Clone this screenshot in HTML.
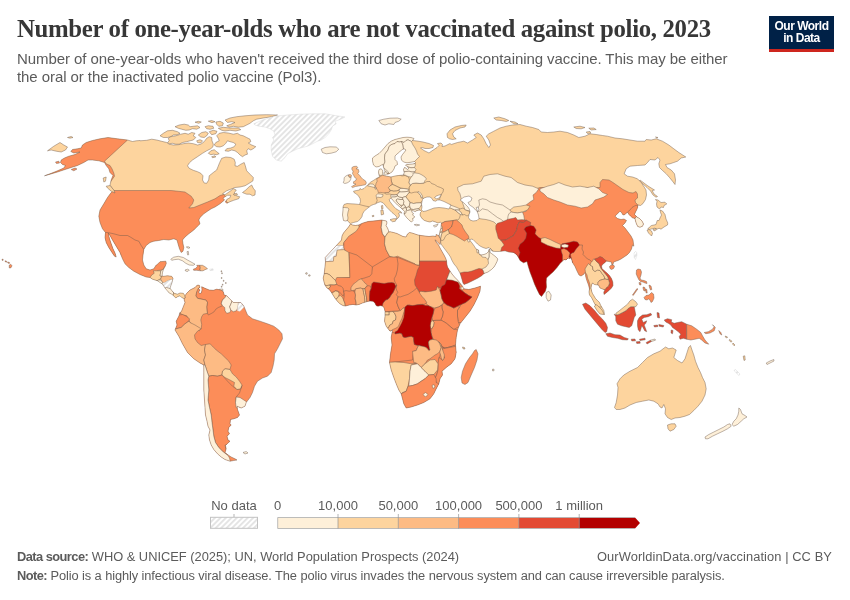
<!DOCTYPE html>
<html lang="en">
<head>
<meta charset="utf-8">
<title>Number of one-year-olds who are not vaccinated against polio, 2023</title>
<style>
html,body{margin:0;padding:0;background:#fff;}
body{width:850px;height:600px;position:relative;overflow:hidden;font-family:"Liberation Sans",sans-serif;color:#5b5b5b;}
.title{position:absolute;left:17px;top:14.4px;margin:0;font-family:"Liberation Serif",serif;font-weight:700;font-size:24.8px;line-height:30px;color:#373737;white-space:nowrap;letter-spacing:-0.335px;}
.subtitle{position:absolute;left:17px;top:49.9px;margin:0;font-size:15px;line-height:17.8px;color:#5b5b5b;white-space:nowrap;letter-spacing:-0.07px;}
.logo{position:absolute;left:769px;top:16px;width:65px;height:36px;background:#002147;border-bottom:0;box-sizing:border-box;color:#fff;text-align:center;font-weight:700;font-size:12px;line-height:11.8px;letter-spacing:-0.5px;}
.logo:after{content:"";position:absolute;left:0;right:0;bottom:0;height:3px;background:#ce261e;}
.logo span{display:block;}
.logo .l1{padding-top:5px}
.foot{position:absolute;left:17px;font-size:12.85px;line-height:16px;color:#5b5b5b;white-space:nowrap;margin:0;}
.foot b{font-weight:700}
#src{top:548.6px;}
#note{top:568px;letter-spacing:-0.1px;}
#url{left:597px;top:548.6px;letter-spacing:0.09px;}
.foot b{letter-spacing:-0.55px;}
svg{position:absolute;left:0;top:0;}
.lg{font-family:"Liberation Sans",sans-serif;font-size:13px;fill:#5b5b5b;}
</style>
</head>
<body>
<h1 class="title">Number of one-year-olds who are not vaccinated against polio, 2023</h1>
<p class="subtitle">Number of one-year-olds who haven't received the third dose of polio-containing vaccine. This may be either<br>the oral or the inactivated polio vaccine (Pol3).</p>
<div class="logo"><span class="l1">Our World</span><span>in Data</span></div>
<svg width="850" height="600" viewBox="0 0 850 600">
<defs>
<pattern id="hatch" width="3.86" height="3.86" patternUnits="userSpaceOnUse" patternTransform="rotate(45)">
<rect width="3.86" height="3.86" fill="#fff"/><rect width="1.85" height="3.86" fill="#e3e3e3"/>
</pattern>
</defs>
<defs>
<clipPath id="L1"><path d="M44.5 175.8L50 173.8L57.5 170.8L63.8 168L65.5 165.5L62.5 164.5L60.5 162.5L61.2 160L64.5 158L68.8 156.2L75 154.5L80 152L73.8 153L70.8 151.5L72.5 149.5L77.5 148.8L81.2 148L82.5 145L86.2 142.5L92.5 140.5L100 138.8L108 137.5L117.5 138.8L127.5 140L132.5 141.5L136.2 140.8L140 140.5L140 140.8L146.7 140.3L151.7 139.2L156.7 140L161.7 141.3L166.7 142.5L169.2 144.2L173.3 145L178.3 144.7L183.3 143.7L188.3 143L193.3 143.7L197.5 145L200.8 144.2L204.2 141.7L206.7 138.3L209.2 136.7L211.7 137.5L212 140.8L213.3 144.2L213 146.7L210.8 148.7L206.7 150.8L202.5 153.3L197.5 156.7L192.5 160L189.2 163L187.5 165.8L189.2 168.3L193.3 170.3L197.5 171.7L200.8 173.3L203 175.8L202.5 180L204.2 183L206.7 183.3L208.7 180L209.2 175.8L213.3 172.5L216.7 170L218 166.7L219.7 162.5L221.7 158.3L225.8 157L230.8 157.5L234.2 159.2L235.3 162.5L235 165.8L237.5 166.3L240.8 164.2L244.2 162.5L245.3 165.8L246.7 170.8L250 174.2L253.3 177.5L253 180.8L249.2 183.3L245 185.8L240 187L235 187.5L230.8 189.2L226.7 190.8L222.5 193.7L225 194.7L230 191.3L233.3 188.7L236.3 190L234.2 193L236.3 195.8L239.7 196.7L238.7 198.7L233.7 200.3L230 201.7L227 203.3L225.3 202L227 199.3L230 197.7L230.8 195.3L227.5 195.3L225 196.7L223 198.3L224.5 200L220 203.8L215 207L211.2 208.8L207.5 211.2L203.8 213.8L200 217.5L198.8 220L200 223.8L197.5 226.2L193.8 230L188.8 233.8L185 237L182.5 240L183 243.8L183.8 247.5L183 251.2L181.2 252.5L179.5 248.8L178 243.8L177 240L173.8 238.8L168.8 240L163.8 239.5L158.8 240.5L153.8 241.2L150 242.5L146.2 245.5L143.8 249.5L143 255L142.5 260L143.8 265L146.2 268.8L150 270L153.8 268.8L156.2 265L156.7 265L160 261.7L165.8 261.2L166.3 263.3L165 266.7L163.3 269.7L162.5 272.5L162 275.8L163.3 276.3L167.5 275.8L171.7 276.3L173 278.3L172 282.5L170.8 285.8L170 288.3L172 290.8L174.2 293.3L177.5 294.2L180 293L183.3 293.3L185 295.8L185.3 298L184.2 298.7L181.7 297.5L180 295.8L177.5 296.7L175.8 298L173.7 295.8L171.7 294.2L169.2 293L167.5 290.8L165.8 289.2L164.2 286.7L162.5 284.2L160 282.5L157.5 280.8L155 280L152.5 279.2L150 277.5L146.2 277L140 274.5L133.8 271.2L128.8 267.5L125 263.8L122.5 258.8L120 252.5L116.2 246.2L112.5 240L110 235.5L108.2 233L109.5 238.8L111.2 243.8L113 248.8L115 253L116.2 257L114.5 256.2L112 252.5L108.8 247.5L106.2 242.5L105 237.5L105.5 232.5L102.5 228.8L100 222.5L98.8 216.2L100 210L103.8 203.8L107.5 197.5L111.2 192.5L113.8 190.5L113.8 190.5L112.5 188.8L110 185L111.2 180L113 175.5L110 172.5L108.8 168.8L106.2 165.5L104.5 162.5L98.8 160.8L92.5 160L88 160L83.8 162.5L77.5 165.5L71.2 167.5L65 169.5L57.5 172L50 174.2Z"/></clipPath>
<clipPath id="L2"><path d="M184.2 298.7L185.3 298L185 295.8L186.7 293.3L190 290L195 287.5L197.5 285L199.2 285.3L200 287.2L198.3 288.7L200 290L198.7 292L199.7 293.7L201.3 293L202 290L201.7 286.7L205 288.3L209.2 290L213.3 290.3L216.7 289.2L220.8 290L223.3 291.7L224.2 295L226.7 295.8L229.2 298.3L231.7 300.8L233.3 302.5L237.5 302.5L240.8 302.5L243.7 305.8L247.5 315L252.5 318.8L260 321.2L267.5 323.8L273.8 326.2L278.8 330L282 333.8L282.5 338.8L280 343.8L277.5 348.8L274.5 353.8L274.2 360L273 366.2L271.2 372.5L267.5 376.2L262.5 378L257.5 381.2L254.5 386.2L252.5 392.5L250 397.5L246.2 402.5L246.2 402.5L245 406.2L241.2 408L237 406.2L237.5 409.5L239.5 415L237.5 417.5L233.8 418.8L230.5 419.5L230 423.8L231.2 425L228.8 427.5L228 431.2L229.5 433.8L227 436.2L228 440L230 441.2L228 443L225.5 445.5L226.2 448.8L225 452.5L227.5 454.5L231.2 457L235 458.8L237 460L233.8 460.5L230 461.2L225 459.5L221.2 457L217.5 453.8L213.8 449.5L211.2 445L209.5 440L208.8 435L210 430L208 426.2L207 421.2L205.5 415L205 407.5L204.5 400L203.8 390L203.8 380L203.8 372.5L203.8 365L200 363L193.8 358.8L187.5 352.5L182.5 343.8L178.8 336.2L175 330L177 325L176.2 321.2L178.8 316.2L180 312.5L180 313.3L181.7 310.8L183.3 306.7L185 302.5L184.2 300Z"/></clipPath>
<clipPath id="L3"><path d="M350.5 224L352.5 225L355.5 225.5L358.5 225L363 223L368 221.5L373 221L378 220.5L381.5 220L384 220.5L386.5 221L387 223L386 225.5L387.5 228L388.5 230.5L389 232L390.5 231.8L393.5 232.5L397 233.5L400 235L403 236.5L406 237L407.5 234L409.5 232.5L412 233L415 234L418 235L421 235.5L425 236L429 236.5L433 236L436 236.5L436 234.5L438.5 235.5L439.5 237L440.7 239L440.5 241.5L440 244.5L439 243.5L437 241.5L435 239.8L436 242L438.5 245L440 248L442 251.5L444 255L445.5 258L446.5 260.5L446.8 264L447.5 267L449 269.5L450 271L452 274L454.5 277L457.5 280L460 283L461.5 285L462.5 286.2L463.8 288.8L468.8 289.5L475 288L480.5 286.2L480 291.2L477.5 297.5L473.8 305L470 311.2L465 317.5L460 323.8L457.5 330L456.2 337.5L455.5 345L456.2 352.5L456.2 352.5L455 358.8L451.2 363.8L446.2 367.5L442 371.2L442.5 375L440 378.8L438.8 383.8L436.2 388.8L433.8 393.8L430 398.8L423.8 402.5L417.5 405L411.2 407L406.2 408L403.8 403.8L402.5 398.8L401.2 393.8L398.8 390L396.2 383.8L393.8 377.5L391.2 370L389.5 362.5L390.5 353.8L392 345L391.2 337.5L392.5 330L390 331.2L386.2 326.2L384.5 321.2L385 316.2L385 311.2L384.2 308.1L383 306.2L380.5 305.6L378 306.2L376.1 305.6L374.9 303.1L373 301.2L369.9 301L367.4 301.5L364.9 302.2L362.4 303.1L359.2 304.4L356.1 305L353 304.4L349.2 305L345.5 306L343 305.6L339.9 303.8L337.4 301.2L334.9 298.1L333 295L331.1 291.9L329.2 289.4L326.8 287.8L324.9 285L324 281.9L323.2 278.1L324.2 273.8L324.9 267.5L325.5 261.9L325.2 257.5L341.5 240L342 236L343.5 233L346 230L348.5 227Z"/></clipPath>
<clipPath id="L4"><path d="M350.5 223.5L349 222.5L347.5 220.5L345.5 221L343.5 220.5L342.5 215L343 210L343 207L344 204.5L347 203.5L351 203.8L355 204L359.5 204.5L360.5 201.5L360 198.5L358.5 196L356.5 194L354 192.5L353.5 191.2L356.5 190.5L359.5 190L360 188.5L361.5 189.5L364 188.5L366.5 186L368 184.5L370.8 182L373.7 180.3L376.7 178.3L379.7 176.7L379 175L378.5 172L379 169.5L381 168.8L382.8 170.5L382.5 173L383.5 175.5L387 176.2L391 177L395 176L398.5 175.5L401.5 175.2L403.5 175L404.2 172.5L403.5 169.5L404.5 167.5L406.2 168.2L407.5 169.8L408.8 168L407 166.5L405.5 165L409 164.3L413 164L415 163.5L415.5 162.5L414.5 161.5L411 162.2L407 162.8L403.5 162L401.5 160L401 157L402.5 154.5L404.5 152L406 150L404.5 149L403.5 149L401.5 150L399.5 152L397 154L395 156L395 159.5L397 161.5L397.5 164.5L395 166L394 169L392 172L389 173.8L387.5 174.2L387 174L385.5 172L384.5 170L383.5 167L383 164.5L381.5 165L379 166.5L376 167L373.5 165L372.5 161L372.5 158L375 156L379 153.5L382 150.5L385 147L388 143.5L391.5 141L395 139.5L399 138.5L403 137.5L407 137.2L411 137.5L414 138.5L412.5 140.5L417 141L423 142L429 143.5L433.5 145.5L433 147.5L429 148.5L425 148.5L422 147.5L420.5 148L424 150.5L427 152L429 153L431 151.5L434 149.5L437 147.5L439 145.5L437.5 143.5L441 143L442.5 144.5L442 146.5L445 146L448 144.5L450 143.5L451.2 144.5L457.5 142.5L463.8 141.2L467.5 143L472.5 140L476.2 137.5L473.8 135L477.5 133L481.2 135L483.8 138.8L486.2 143.8L488.8 147.5L490.5 145L488.8 140L486.2 136.2L488.8 133.8L493.8 131.2L500 128L506.2 126.2L512.5 125L520 124.5L526.2 126.2L532.5 127.5L538.8 129.5L541.2 132L547.5 132.5L553.8 132L560 131.2L567.5 132.5L573.8 135L578.8 137.5L585 136.2L590 133.8L596.2 134.5L602.5 135.5L607.5 136.2L615 138L622.5 138.8L630 140L637.5 141.2L645 141.2L646.2 139.5L651.2 140L656.2 138.8L662.5 141.2L668.8 145L673.8 148.8L678.8 152.5L685.8 157L681.2 158L677.5 161.2L673.8 162.5L670 163.8L665.5 164.5L667 167.5L671.2 170L674.5 173.8L675.5 180L675 184.5L672.5 181.2L669.5 177.5L666.2 173.8L662.5 170.5L659.5 167.5L658.8 163.8L660 160L658 157.5L655 160L650 159.5L647.5 162.5L645 165L637.5 165.5L630 166.2L626.2 168.8L624.2 173.8L627.5 176.2L632.5 177L637.5 178.8L641.2 182.5L644.5 187.5L646 190L646.5 195L645.5 199.5L643 203.5L640.5 205.5L638.5 205L637.5 206L637.8 207L636.8 209.5L635.5 212L634.5 214.5L636.5 216.5L637.2 217.2L639.5 218.5L642 221L643.5 224L642.5 226.2L640 227.2L637.8 226.5L636.5 224L635.5 221L635 218.5L632.5 217.8L630.5 216L629 214.5L627.5 212L625 214.5L623 215L621.5 212.5L620 211.2L615 216.2L617.5 218.5L621 219.5L624 219L626.5 220.5L625 223L622.5 225.5L625 228L628 232L631 236L633 240L633.8 246.2L632.5 245L631.5 249L629.5 252.5L627 255L624 257L621 259L618 260.5L615 261.5L613.5 262.2L613 264.5L611.8 264.5L611.5 262.2L609 261.5L606.5 261L605 262.5L603 264L601.5 266L602 268.5L604 270.5L607 273L609.5 275.5L611.5 278.5L612.8 282L613 285.5L611.5 288L609 290.5L606 293L604 294.5L603.8 292L605 290L602.5 289L600 288L598.5 285L596.5 284.8L594.5 284.5L592.5 283L591.5 285L591 288L591.5 291L592.5 293.5L594 296L595.5 298.5L597.5 300.5L599.5 302.5L600.5 305L602 307.5L603.8 310.5L604.5 314.5L600 314L597 310.5L594.5 306.5L595.5 305L594.5 303.5L593 300.5L591.5 297.5L589.5 295L589 292L589.5 289L588.5 285L587 281L585.8 277L585 272.5L583.5 274.5L581 276L579 275L577 271L575 266.5L572.5 262.5L571.2 257.5L571.2 257.5L570 258.5L568 258L566 260L564 259.5L563 260.5L560 263.5L557 267.5L553 272L549 275.5L546.5 278L546.2 282L546.5 287L545.5 291L543 294.5L541.5 296.5L539.5 294.5L537 289.5L534.5 284L532.5 278.5L530 272L528 265.5L527 261.5L523.5 262.8L520 260.5L518.5 257.5L517 255L513.8 252.5L508.8 252L505 250.8L503 251L499 251.5L495 251.5L492 251L490.5 249L489 247.5L486 248.5L483 247.5L480 246L477.5 244L475 241.5L473 239.5L471 239L469.8 240L470.5 241.2L472 243L474.5 246.5L476 249L477.2 249.5L478.5 250L478.8 252.5L479 254L481 255L484 254.5L486.5 253.5L488.5 251.5L489.2 249L490 250.5L490 252.5L491.5 253.5L493.5 255L496 257L497.8 259L497 261.5L495.5 264.5L494 267L491.5 269.5L488 272L484 273.5L482 275.5L478 278L473 280.5L468 283L464 284.5L463 283L462 279.5L461 276L460 273L458.5 270.5L456.5 267L454 264L452 260.5L450.5 257L448.5 254L445.5 250L442.5 246L441 244L440.5 241.5L440.7 239L439.5 237L438.8 235.5L439.5 234L440 231L441 228L441.2 225L441.5 223L440.5 222L438 223L435 221.8L432.5 221L430 222L427.5 221.5L424.5 220.5L422.5 219L421 217L420 215L420.5 212.5L421.5 211.5L421 210.5L419 210L417 210.5L415 211.5L414 211L411.5 210.5L412 212.5L413.5 213.5L412.5 215L414.5 216.5L414 218L412.5 218.5L413 220.5L411.5 222L410 221L408.5 219.5L406.5 217.5L405 215.5L404 214L404.5 211.5L402.5 209.2L400 207L397.5 205L395.5 203L393.5 201L392.2 199.2L390.5 198.2L389.2 199.7L390 201.7L392 204.3L394 206.8L396 208.8L398.5 210.3L400.8 211.7L401.8 213.2L400 212.5L398.5 213.5L399.5 215L399 217L397.5 218.5L396.2 219.5L397 218L396.2 216.2L394.5 214.5L392 212.5L389.5 210L387 207.5L385 205L383 202.8L380.5 201.8L378 202.5L376 203.5L376 203.8L373.5 204.5L371 205.5L369.5 206.8L369 207.2L366.5 209L364 211.5L362.5 214L362 216.5L360 219.5L357.5 221.5L353.5 222.5Z"/></clipPath>
</defs>
<g id="map" stroke="#6e5a4c" stroke-width=".45" stroke-linejoin="round">
<path fill="#fdd49e" stroke="none" d="M44.5 175.8L50 173.8L57.5 170.8L63.8 168L65.5 165.5L62.5 164.5L60.5 162.5L61.2 160L64.5 158L68.8 156.2L75 154.5L80 152L73.8 153L70.8 151.5L72.5 149.5L77.5 148.8L81.2 148L82.5 145L86.2 142.5L92.5 140.5L100 138.8L108 137.5L117.5 138.8L127.5 140L132.5 141.5L136.2 140.8L140 140.5L140 140.8L146.7 140.3L151.7 139.2L156.7 140L161.7 141.3L166.7 142.5L169.2 144.2L173.3 145L178.3 144.7L183.3 143.7L188.3 143L193.3 143.7L197.5 145L200.8 144.2L204.2 141.7L206.7 138.3L209.2 136.7L211.7 137.5L212 140.8L213.3 144.2L213 146.7L210.8 148.7L206.7 150.8L202.5 153.3L197.5 156.7L192.5 160L189.2 163L187.5 165.8L189.2 168.3L193.3 170.3L197.5 171.7L200.8 173.3L203 175.8L202.5 180L204.2 183L206.7 183.3L208.7 180L209.2 175.8L213.3 172.5L216.7 170L218 166.7L219.7 162.5L221.7 158.3L225.8 157L230.8 157.5L234.2 159.2L235.3 162.5L235 165.8L237.5 166.3L240.8 164.2L244.2 162.5L245.3 165.8L246.7 170.8L250 174.2L253.3 177.5L253 180.8L249.2 183.3L245 185.8L240 187L235 187.5L230.8 189.2L226.7 190.8L222.5 193.7L225 194.7L230 191.3L233.3 188.7L236.3 190L234.2 193L236.3 195.8L239.7 196.7L238.7 198.7L233.7 200.3L230 201.7L227 203.3L225.3 202L227 199.3L230 197.7L230.8 195.3L227.5 195.3L225 196.7L223 198.3L224.5 200L220 203.8L215 207L211.2 208.8L207.5 211.2L203.8 213.8L200 217.5L198.8 220L200 223.8L197.5 226.2L193.8 230L188.8 233.8L185 237L182.5 240L183 243.8L183.8 247.5L183 251.2L181.2 252.5L179.5 248.8L178 243.8L177 240L173.8 238.8L168.8 240L163.8 239.5L158.8 240.5L153.8 241.2L150 242.5L146.2 245.5L143.8 249.5L143 255L142.5 260L143.8 265L146.2 268.8L150 270L153.8 268.8L156.2 265L156.7 265L160 261.7L165.8 261.2L166.3 263.3L165 266.7L163.3 269.7L162.5 272.5L162 275.8L163.3 276.3L167.5 275.8L171.7 276.3L173 278.3L172 282.5L170.8 285.8L170 288.3L172 290.8L174.2 293.3L177.5 294.2L180 293L183.3 293.3L185 295.8L185.3 298L184.2 298.7L181.7 297.5L180 295.8L177.5 296.7L175.8 298L173.7 295.8L171.7 294.2L169.2 293L167.5 290.8L165.8 289.2L164.2 286.7L162.5 284.2L160 282.5L157.5 280.8L155 280L152.5 279.2L150 277.5L146.2 277L140 274.5L133.8 271.2L128.8 267.5L125 263.8L122.5 258.8L120 252.5L116.2 246.2L112.5 240L110 235.5L108.2 233L109.5 238.8L111.2 243.8L113 248.8L115 253L116.2 257L114.5 256.2L112 252.5L108.8 247.5L106.2 242.5L105 237.5L105.5 232.5L102.5 228.8L100 222.5L98.8 216.2L100 210L103.8 203.8L107.5 197.5L111.2 192.5L113.8 190.5L113.8 190.5L112.5 188.8L110 185L111.2 180L113 175.5L110 172.5L108.8 168.8L106.2 165.5L104.5 162.5L98.8 160.8L92.5 160L88 160L83.8 162.5L77.5 165.5L71.2 167.5L65 169.5L57.5 172L50 174.2Z"/>
<g clip-path="url(#L1)">
<path fill="#fc8d59" d="M113.8 190.5L171.2 190.5L185 192L191.2 196.2L193.8 200L192.5 203.8L188.8 208L193.8 207.5L200 205L207.5 202L215 198.8L220 195.5L223.8 194.5L226.2 197L226.2 201.2L230 205L230 255L95 255L95 190.5Z"/>
<path fill="#fc8d59" d="M105.5 232.5L107.5 232.5L113.8 233.8L120 235.5L127.5 235.5L131.2 237.5L135 240L138.8 241.2L141.2 245.5L143.8 249.5L150 252.5L170 255L170 266.2L165 266.2L162.5 270L157.5 270.5L155.5 273.8L152.5 275L151.2 278L151.2 285L100 285L100 230Z"/>
<path fill="#fc8d59" d="M127.5 140L104.5 161.2L106.2 163.8L110 165.5L112 168.8L113.8 173L114.5 176.2L110 182.5L37.5 182.5L37.5 135L127.5 135Z"/>
<path fill="#fdd49e" d="M153.3 270.8L157.5 270.8L160.8 270.8L160.5 273.3L160 275.8L162 276.3L160.8 278.3L158.7 280L156.7 280.8L155 281.7L150 281.7L150 277.5L151.7 275L154.2 273.3Z"/>
<path fill="#fef0d9" d="M160.8 270.8L163.3 269.2L165 270.8L163.3 276.7L162 276.3L160 275.8L160.5 273.3Z"/>
<path fill="#fdbb84" d="M162 276.3L163.3 275L173.3 275L174.2 279.2L170.8 279.7L167.5 280.8L165 282.5L163 283L161.7 281.3L160.8 280L160.8 278.3Z"/>
<path fill="#fef0d9" d="M156.7 280.8L158.7 280L160.8 280L161.7 281.3L163 283L160.8 284.2L156.7 283.3Z"/>
<path fill="url(#hatch)" stroke="#d6d6d6" d="M163 283L165 282.5L167.5 280.8L170.8 279.7L174.2 279.2L174.2 288.3L171.7 288.7L169.2 288.3L166.7 287.5L164.2 288.3L161.7 285.8Z"/>
<path fill="#fef0d9" d="M164.2 288.3L166.7 287.5L169.2 288.3L171.7 288.7L173 290.8L173.7 293L173 295.8L170 296.7L163.3 291.7Z"/>
<path fill="#fdd49e" d="M173 290.8L175 290L186.7 290L186.7 295L185.3 298L184.2 300L171.7 300L173 295.8L173.7 293Z"/>
</g>
<path fill="none" d="M44.5 175.8L50 173.8L57.5 170.8L63.8 168L65.5 165.5L62.5 164.5L60.5 162.5L61.2 160L64.5 158L68.8 156.2L75 154.5L80 152L73.8 153L70.8 151.5L72.5 149.5L77.5 148.8L81.2 148L82.5 145L86.2 142.5L92.5 140.5L100 138.8L108 137.5L117.5 138.8L127.5 140L132.5 141.5L136.2 140.8L140 140.5L140 140.8L146.7 140.3L151.7 139.2L156.7 140L161.7 141.3L166.7 142.5L169.2 144.2L173.3 145L178.3 144.7L183.3 143.7L188.3 143L193.3 143.7L197.5 145L200.8 144.2L204.2 141.7L206.7 138.3L209.2 136.7L211.7 137.5L212 140.8L213.3 144.2L213 146.7L210.8 148.7L206.7 150.8L202.5 153.3L197.5 156.7L192.5 160L189.2 163L187.5 165.8L189.2 168.3L193.3 170.3L197.5 171.7L200.8 173.3L203 175.8L202.5 180L204.2 183L206.7 183.3L208.7 180L209.2 175.8L213.3 172.5L216.7 170L218 166.7L219.7 162.5L221.7 158.3L225.8 157L230.8 157.5L234.2 159.2L235.3 162.5L235 165.8L237.5 166.3L240.8 164.2L244.2 162.5L245.3 165.8L246.7 170.8L250 174.2L253.3 177.5L253 180.8L249.2 183.3L245 185.8L240 187L235 187.5L230.8 189.2L226.7 190.8L222.5 193.7L225 194.7L230 191.3L233.3 188.7L236.3 190L234.2 193L236.3 195.8L239.7 196.7L238.7 198.7L233.7 200.3L230 201.7L227 203.3L225.3 202L227 199.3L230 197.7L230.8 195.3L227.5 195.3L225 196.7L223 198.3L224.5 200L220 203.8L215 207L211.2 208.8L207.5 211.2L203.8 213.8L200 217.5L198.8 220L200 223.8L197.5 226.2L193.8 230L188.8 233.8L185 237L182.5 240L183 243.8L183.8 247.5L183 251.2L181.2 252.5L179.5 248.8L178 243.8L177 240L173.8 238.8L168.8 240L163.8 239.5L158.8 240.5L153.8 241.2L150 242.5L146.2 245.5L143.8 249.5L143 255L142.5 260L143.8 265L146.2 268.8L150 270L153.8 268.8L156.2 265L156.7 265L160 261.7L165.8 261.2L166.3 263.3L165 266.7L163.3 269.7L162.5 272.5L162 275.8L163.3 276.3L167.5 275.8L171.7 276.3L173 278.3L172 282.5L170.8 285.8L170 288.3L172 290.8L174.2 293.3L177.5 294.2L180 293L183.3 293.3L185 295.8L185.3 298L184.2 298.7L181.7 297.5L180 295.8L177.5 296.7L175.8 298L173.7 295.8L171.7 294.2L169.2 293L167.5 290.8L165.8 289.2L164.2 286.7L162.5 284.2L160 282.5L157.5 280.8L155 280L152.5 279.2L150 277.5L146.2 277L140 274.5L133.8 271.2L128.8 267.5L125 263.8L122.5 258.8L120 252.5L116.2 246.2L112.5 240L110 235.5L108.2 233L109.5 238.8L111.2 243.8L113 248.8L115 253L116.2 257L114.5 256.2L112 252.5L108.8 247.5L106.2 242.5L105 237.5L105.5 232.5L102.5 228.8L100 222.5L98.8 216.2L100 210L103.8 203.8L107.5 197.5L111.2 192.5L113.8 190.5L113.8 190.5L112.5 188.8L110 185L111.2 180L113 175.5L110 172.5L108.8 168.8L106.2 165.5L104.5 162.5L98.8 160.8L92.5 160L88 160L83.8 162.5L77.5 165.5L71.2 167.5L65 169.5L57.5 172L50 174.2Z"/>
<path fill="#fdd49e" d="M47.5 150.8L53.8 146.2L60 142.5L63.8 145L67.5 147L65.5 150L61.2 152L56.2 151.2L51.2 150Z"/>
<path fill="#fdd49e" d="M67.5 137.5L71.2 136.5L73 137.5L70 138.2Z"/>
<path fill="#fdd49e" d="M106.2 186.2L110 185.5L113.8 190L115 193L111.2 191.2L107.5 188Z"/>
<path fill="#fdd49e" d="M103.2 178L106.2 177L105.5 181.2L103.8 182Z"/>
<path fill="#fc8d59" d="M71.2 169.5L75 168L77 169L73.8 170.8Z"/>
<path fill="#fc8d59" d="M55.5 162L58.8 161.2L59.5 163L56.5 163.5Z"/>
<path fill="#fc8d59" d="M9.2 265.3L10.7 264.2L12 265.8L11 267.7L9.3 268Z"/>
<path fill="#fc8d59" d="M2 259.2L3.2 259.3L3 260.5L2.2 260.3Z"/>
<path fill="#fc8d59" d="M5 260.8L6.7 261.3L6.5 262.2L5.2 261.7Z"/>
<path fill="#fc8d59" d="M7.7 262L9.5 262.5L9.3 263.5L7.8 263Z"/>
<path fill="#fdd49e" d="M160 135.8L163.3 133.3L167.5 130.8L172.5 130.3L177.5 131.7L180 133.3L177.5 134.7L173.3 135L170.8 136.7L167.5 137.5L163.3 137.5Z"/>
<path fill="#fdd49e" d="M168.3 138.3L170.8 136.7L175.8 135.8L180.8 134.2L185 133.3L188.3 134.2L191.7 132.5L195 133.3L193.3 135.8L195.8 137.5L193.3 140L190 140.8L186.7 141.7L182.5 142.5L179.2 144.2L175.8 144.2L172.5 143.3L169.2 143.7L167.5 142.5L169.2 140.8Z"/>
<path fill="#fdd49e" d="M175 126.7L179.2 125L184.2 124.2L188.3 125L190 126.7L193.3 126.3L197.5 125.8L200 127.5L196.7 129.2L192.5 128.7L189.2 130L185.8 130.3L181.7 129.2L178.3 128.3Z"/>
<path fill="#fdd49e" d="M195 122.2L198.3 121.3L201.3 122L198.7 123.3Z"/>
<path fill="#fdd49e" d="M208.3 121.2L211.7 120.5L215 121.7L212 122.7Z"/>
<path fill="#fdd49e" d="M205 126.7L208.3 125.7L213 126.3L213.7 128.3L210 129.3L206.7 128.7Z"/>
<path fill="#fdd49e" d="M215.8 122L220 121.3L223.3 123L222.5 125.8L218.7 126.3L216.7 124.3Z"/>
<path fill="#fdd49e" d="M198.3 135L201.7 132.5L205.8 131.7L208.3 133.3L206.7 135.8L204.2 137.5L200.8 137Z"/>
<path fill="#fdd49e" d="M196.7 140.8L200 139.7L202.5 140.8L200.8 143L197.5 142.5Z"/>
<path fill="#fdd49e" d="M209.2 131.7L213.3 130.3L217 131.3L215.8 133.7L211.7 134.7Z"/>
<path fill="#fdd49e" d="M218.3 128.3L223.3 127.3L230 128L238.3 128L240.8 129.7L235.8 131L230 130.3L225 131L221.7 130.3Z"/>
<path fill="#fdd49e" d="M225 120L230 118L236.7 116.7L245 115.8L255 115L266.7 114.7L277.5 115L271.7 116.7L263.3 118L256.7 119.2L253.3 120.8L250 123.3L246.7 125L243.3 126.7L238.3 127.2L233.3 126.3L229.2 127.2L226.7 125.8L230.8 124.2L235 122.5L231.7 121.7L227.5 122.5Z"/>
<path fill="#fdd49e" d="M216.7 135.8L219.2 133.3L223.3 132.5L228.3 133L233.3 134.2L237.5 133.3L240 135L243.3 135.8L246.7 137.5L250 139.2L250.8 141.7L248.3 143L251.7 145L255.8 146.7L253.3 148.7L250.8 150L248.3 148.7L246.7 150.8L247.5 154.2L245 155L242.5 156.7L240 155L237.5 152.5L235 150.8L231.7 150L228.3 151.3L225 150.8L226.7 148.7L230.8 148L234.2 146.7L235.8 144.2L233.3 142.5L230 141.7L227.5 140.8L225.8 143.3L223.3 145.8L220 147L216.7 146.7L214.2 145L215.8 142.5L219.2 140.8L218.3 138.3Z"/>
<path fill="#fdd49e" d="M208.3 153.3L210.8 150.8L214.2 149.7L216.7 151.7L219.2 153.7L216.7 154.7L213.3 154.2L210.8 154.7Z"/>
<path fill="#fdd49e" d="M211.7 156.7L215 155.8L215.8 157L212.5 157.7Z"/>
<path fill="#fdd49e" d="M242.5 192.5L245.8 190L249.2 186.7L251.7 185L253.3 188.3L255.3 190.8L255 195L252.5 195.8L250 194.2L246.7 194.2L244.2 193.3Z"/>
<path fill="#fdd49e" d="M233.3 194.2L236.7 193.3L237.5 194.7L234.2 195.3Z"/>
<path fill="url(#hatch)" stroke="#d6d6d6" d="M253.8 123.8L262.5 120L275 116.2L287.5 115L300 114.2L312.5 113.8L325 113.8L335 115.5L345 117L340 119.5L335 121.2L336.2 123.8L332.5 126.2L331.2 130L328.8 133.8L325 137.5L321.2 140L317.5 141.2L312.5 143.8L307.5 146.2L302.5 147.5L297.5 148.8L292.5 151.2L287.5 153.8L285 157.5L281.2 161.2L276.2 160L272.5 156.2L271.2 150L271.2 145L273.8 140L272.5 137.5L275 135L273.8 131.2L270 128.8L265 127L258.8 126.2L255 125Z"/>
<path fill="#fef0d9" d="M321.2 149.2L325 147.5L330 146.8L336.2 147L338.8 149.2L336.2 151.8L331.2 153.2L326.2 153.8L322.5 152.5Z"/>
<path fill="#fef0d9" d="M378.8 120.5L383.8 119.2L390 118.2L397.5 118L401.2 119.2L398.8 121.2L395 122.5L393.8 124.5L388.8 123.8L385 125L381.2 123.8Z"/>
<path fill="#fef0d9" d="M170.8 259.2L173.7 257.2L178.3 256.3L183.3 257.5L187.5 260L192 262.5L195 264.2L193.3 265.3L189.2 265L185.8 263.3L182.5 260.8L178.3 259.2L174.2 259.7L171.7 260.3Z"/>
<path fill="#fef0d9" d="M185 270L187.5 269.2L189.3 270L188 271.3L185.8 271.2Z"/>
<path fill="#fc8d59" d="M193.3 269.2L195.8 268.3L197.5 266.3L196.7 265.3L199.7 265.3L200.3 267.5L200 269.7L200.8 270.8L196.7 270.3L193.7 270.3Z"/>
<path fill="#fdbb84" d="M199.7 265.3L202.5 265.3L205 266.7L207.5 268.7L205 269.7L203 270.8L200.8 270.8L200 269.7L200.3 267.5Z"/>
<path fill="url(#hatch)" stroke="#d6d6d6" d="M209.7 269.2L213 268.8L213.3 270.3L210 270.5Z"/>
<path fill="#fef0d9" d="M186.3 247L188.3 246.7L190 247.7L188.3 248.3Z"/>
<path fill="#fef0d9" d="M187 251.7L188.3 251.3L188.7 254.7L187.7 255Z"/>
<path fill="#fef0d9" d="M219.2 289.3L222.7 289L223 290.7L219.7 291Z"/>
<path fill="#fef0d9" d="M221 270.8L221.7 270.8L221.7 271.8L221 271.8Z"/>
<path fill="#fef0d9" d="M221.7 272.8L222.3 272.8L222.3 273.8L221.7 273.8Z"/>
<path fill="#fef0d9" d="M221.3 277.5L222 277.5L222 278.5L221.3 278.5Z"/>
<path fill="#fef0d9" d="M223.3 280.3L224 280.3L224 281.3L223.3 281.3Z"/>
<path fill="#fef0d9" d="M225.5 282.5L226.2 282.5L226.2 283.5L225.5 283.5Z"/>
<path fill="#fef0d9" d="M222.3 284.2L223 284.2L223 285.2L222.3 285.2Z"/>
<path fill="#fef0d9" d="M221.3 286.2L222 286.2L222 287.2L221.3 287.2Z"/>
<path fill="#fc8d59" stroke="none" d="M184.2 298.7L185.3 298L185 295.8L186.7 293.3L190 290L195 287.5L197.5 285L199.2 285.3L200 287.2L198.3 288.7L200 290L198.7 292L199.7 293.7L201.3 293L202 290L201.7 286.7L205 288.3L209.2 290L213.3 290.3L216.7 289.2L220.8 290L223.3 291.7L224.2 295L226.7 295.8L229.2 298.3L231.7 300.8L233.3 302.5L237.5 302.5L240.8 302.5L243.7 305.8L247.5 315L252.5 318.8L260 321.2L267.5 323.8L273.8 326.2L278.8 330L282 333.8L282.5 338.8L280 343.8L277.5 348.8L274.5 353.8L274.2 360L273 366.2L271.2 372.5L267.5 376.2L262.5 378L257.5 381.2L254.5 386.2L252.5 392.5L250 397.5L246.2 402.5L246.2 402.5L245 406.2L241.2 408L237 406.2L237.5 409.5L239.5 415L237.5 417.5L233.8 418.8L230.5 419.5L230 423.8L231.2 425L228.8 427.5L228 431.2L229.5 433.8L227 436.2L228 440L230 441.2L228 443L225.5 445.5L226.2 448.8L225 452.5L227.5 454.5L231.2 457L235 458.8L237 460L233.8 460.5L230 461.2L225 459.5L221.2 457L217.5 453.8L213.8 449.5L211.2 445L209.5 440L208.8 435L210 430L208 426.2L207 421.2L205.5 415L205 407.5L204.5 400L203.8 390L203.8 380L203.8 372.5L203.8 365L200 363L193.8 358.8L187.5 352.5L182.5 343.8L178.8 336.2L175 330L177 325L176.2 321.2L178.8 316.2L180 312.5L180 313.3L181.7 310.8L183.3 306.7L185 302.5L184.2 300Z"/>
<g clip-path="url(#L2)">
<path fill="#fc8d59" d="M197.5 298.3L195.8 295.8L196.7 291.7L196.7 285L230 285L230 295L225 297.5L222.5 300L221.3 303.3L222.5 305.8L218.3 307.5L215.8 309.2L214.2 311.7L211.7 313.3L208.3 315L207.5 313.3L207 310.8L206.7 306.7L207.5 302.5L205.8 300L201.7 299.2Z"/>
<path fill="#fdbb84" d="M180 296.7L186.7 290L200 283.3L200.8 287.5L198.3 288.3L196.7 291.7L195.8 295.8L197.5 298.3L201.7 299.2L205.8 300L207.5 302.5L206.7 306.7L207 310.8L207.5 313.3L203.3 314.2L201.7 316.7L200.8 320L201.7 324.2L201.3 328.3L199.2 330.8L195.8 327.5L192.5 325L190 322.5L188.7 319.7L186.7 315.8L183.3 315L180 313.3L176.7 313.3Z"/>
<path fill="#fc8d59" d="M172.5 321.2L178.8 315L182.5 314.5L186.2 316.2L189.5 318.8L188.8 321.2L185 323.8L181.2 327.5L176.2 328.8L172.5 329.5Z"/>
<path fill="#fdbb84" d="M176.2 328.8L181.2 327.5L185 323.8L188.8 321.2L190 322.5L195 325L201.2 328.8L197.5 331.2L194.5 335L195 338.8L197.5 342.5L201.2 345.5L205.5 344.5L204.5 350L205.5 355L203.8 360L205 365L203.8 366.2L197.5 367.5L170 340L170 328.8Z"/>
<path fill="#fdbb84" d="M205.5 344.5L210 343.8L212.5 346.2L216.2 350L221.2 353.8L225 357.5L228.8 361.2L231.2 365L230 369.5L225 368.8L222.5 371.2L222 375L217.5 376.2L212.5 375.5L208.8 376.2L207 371.2L205 365L203.8 360L205.5 355L204.5 350Z"/>
<path fill="#fc8d59" d="M208.8 376.2L212.5 375.5L217.5 376.2L222 375L227.5 381.2L232.5 386.2L237 389.5L240.5 388.8L242 385.5L239.5 393L236.2 397L235.5 402.5L237.5 407L250 410L250 445L225 445L227.5 455L225 453.2L222.5 451.2L218.8 447.5L215.5 442.5L213.8 436.2L213 430L212 422.5L211.2 415L209.5 407.5L208 400L208.8 390L208 380Z"/>
<path fill="#fef0d9" d="M203.8 365L205 365L207 371.2L208.8 376.2L208 380L208.8 390L208 400L209.5 407.5L211.2 415L212 422.5L213 430L213.8 436.2L215.5 442.5L218.8 447.5L222.5 451.2L225 453.2L228 455.5L229.5 458L230.5 462.5L200 462.5L200 380L200 372.5L200 363.8Z"/>
<path fill="#fdd49e" d="M222.5 371.2L225 368.8L230 369.5L232.5 373.8L236.2 377L239.5 381.2L242 385L240.5 388.8L237 389.5L233.8 386.2L234.5 382.5L230 380L225 377.5L222 375Z"/>
<path fill="#fef0d9" d="M236.2 397L240 397.5L243.8 400L247.5 402.5L247.5 407.5L241.2 409.5L236.2 407.5L235.5 402.5Z"/>
<path fill="#fef0d9" d="M225 297.5L226.7 294.2L230 296.7L232.5 300L230.8 304.2L229.7 306.7L230.8 310L230 312.5L226.7 313.3L225 310.8L224.7 307.5L222.5 305.8L221.3 303.3L222.5 300Z"/>
<path fill="#fef0d9" d="M230.8 304.2L232.5 300L238.3 300L238.3 305L237.5 308.3L236.3 310.8L233.3 311.7L230.8 310L229.7 306.7Z"/>
<path fill="url(#hatch)" stroke="#d6d6d6" d="M238.3 304.2L238.3 300L245 300L245 305.8L242 309.2L240 311.3L237.5 310.8L237.5 308.3Z"/>
</g>
<path fill="none" d="M184.2 298.7L185.3 298L185 295.8L186.7 293.3L190 290L195 287.5L197.5 285L199.2 285.3L200 287.2L198.3 288.7L200 290L198.7 292L199.7 293.7L201.3 293L202 290L201.7 286.7L205 288.3L209.2 290L213.3 290.3L216.7 289.2L220.8 290L223.3 291.7L224.2 295L226.7 295.8L229.2 298.3L231.7 300.8L233.3 302.5L237.5 302.5L240.8 302.5L243.7 305.8L247.5 315L252.5 318.8L260 321.2L267.5 323.8L273.8 326.2L278.8 330L282 333.8L282.5 338.8L280 343.8L277.5 348.8L274.5 353.8L274.2 360L273 366.2L271.2 372.5L267.5 376.2L262.5 378L257.5 381.2L254.5 386.2L252.5 392.5L250 397.5L246.2 402.5L246.2 402.5L245 406.2L241.2 408L237 406.2L237.5 409.5L239.5 415L237.5 417.5L233.8 418.8L230.5 419.5L230 423.8L231.2 425L228.8 427.5L228 431.2L229.5 433.8L227 436.2L228 440L230 441.2L228 443L225.5 445.5L226.2 448.8L225 452.5L227.5 454.5L231.2 457L235 458.8L237 460L233.8 460.5L230 461.2L225 459.5L221.2 457L217.5 453.8L213.8 449.5L211.2 445L209.5 440L208.8 435L210 430L208 426.2L207 421.2L205.5 415L205 407.5L204.5 400L203.8 390L203.8 380L203.8 372.5L203.8 365L200 363L193.8 358.8L187.5 352.5L182.5 343.8L178.8 336.2L175 330L177 325L176.2 321.2L178.8 316.2L180 312.5L180 313.3L181.7 310.8L183.3 306.7L185 302.5L184.2 300Z"/>
<path fill="#fef0d9" d="M243 452.5L246.2 451.5L248 453L245 454Z"/>
<path fill="#fc8d59" stroke="none" d="M350.5 224L352.5 225L355.5 225.5L358.5 225L363 223L368 221.5L373 221L378 220.5L381.5 220L384 220.5L386.5 221L387 223L386 225.5L387.5 228L388.5 230.5L389 232L390.5 231.8L393.5 232.5L397 233.5L400 235L403 236.5L406 237L407.5 234L409.5 232.5L412 233L415 234L418 235L421 235.5L425 236L429 236.5L433 236L436 236.5L436 234.5L438.5 235.5L439.5 237L440.7 239L440.5 241.5L440 244.5L439 243.5L437 241.5L435 239.8L436 242L438.5 245L440 248L442 251.5L444 255L445.5 258L446.5 260.5L446.8 264L447.5 267L449 269.5L450 271L452 274L454.5 277L457.5 280L460 283L461.5 285L462.5 286.2L463.8 288.8L468.8 289.5L475 288L480.5 286.2L480 291.2L477.5 297.5L473.8 305L470 311.2L465 317.5L460 323.8L457.5 330L456.2 337.5L455.5 345L456.2 352.5L456.2 352.5L455 358.8L451.2 363.8L446.2 367.5L442 371.2L442.5 375L440 378.8L438.8 383.8L436.2 388.8L433.8 393.8L430 398.8L423.8 402.5L417.5 405L411.2 407L406.2 408L403.8 403.8L402.5 398.8L401.2 393.8L398.8 390L396.2 383.8L393.8 377.5L391.2 370L389.5 362.5L390.5 353.8L392 345L391.2 337.5L392.5 330L390 331.2L386.2 326.2L384.5 321.2L385 316.2L385 311.2L384.2 308.1L383 306.2L380.5 305.6L378 306.2L376.1 305.6L374.9 303.1L373 301.2L369.9 301L367.4 301.5L364.9 302.2L362.4 303.1L359.2 304.4L356.1 305L353 304.4L349.2 305L345.5 306L343 305.6L339.9 303.8L337.4 301.2L334.9 298.1L333 295L331.1 291.9L329.2 289.4L326.8 287.8L324.9 285L324 281.9L323.2 278.1L324.2 273.8L324.9 267.5L325.5 261.9L325.2 257.5L341.5 240L342 236L343.5 233L346 230L348.5 227Z"/>
<g clip-path="url(#L3)">
<path fill="#fdd49e" d="M356 220L358.5 225L359.5 228L358.5 231L355 233L352 234.5L350 236L346 240L343.8 243L343.3 245.7L334.2 245.4L325 245L330 220Z"/>
<path fill="url(#hatch)" stroke="#d6d6d6" d="M334.2 245.4L343.3 245.7L343.8 249.6L337.1 250L336.2 256.2L333.8 256.7L333.3 261.2L320 261.5L320 250L330 245Z"/>
<path fill="#fc8d59" d="M358.8 227.5L363.8 220L382.5 217.5L381.2 227.5L382.5 233.8L385 237.5L384.5 243.8L386.2 250L389.5 256.2L390 260L378.8 270L365 270L347.5 256.2L343.8 247.5L343.8 242.5L348.8 236.2L352.5 233.8L356.2 231.2Z"/>
<path fill="#fef0d9" d="M382.5 217.5L392.5 217.5L392.5 228.8L388 232.5L385 237L382.5 233.8L381.2 227.5Z"/>
<path fill="#fdd49e" d="M385 237L388 232.5L392.5 228.8L420 227.5L419.5 265L416.2 265L415 263.8L397.5 256.2L393.8 257.5L389.5 256.2L386.2 250L384.5 243.8Z"/>
<path fill="#fdbb84" d="M419.5 232.5L445 232.5L450 261.2L419.5 261.2Z"/>
<path fill="#fdd49e" d="M320 262L333.3 261.2L333.8 256.7L336.2 256.2L337.1 250L343.8 249.6L348.8 252.5L350 277.5L337 278.3L335.5 280.6L333 278.1L329.9 275L326.8 273.5L320 273.5Z"/>
<path fill="#fc8d59" d="M336.8 277.5L349.9 277.5L349.2 252.5L356.8 255L372.4 266.9L373.6 273.8L371.8 278.8L364.2 281.2L360.5 283.8L355.5 287.5L353 292.5L343 293.8L336.8 287.5L334.2 283.8L335.5 280.6L336.1 278.8Z"/>
<path fill="#fc8d59" d="M372.4 266.9L389.2 256.9L397 257.2L401.8 262.5L401.8 287.5L393 287.5L370.5 291.2L365.5 288.8L361.8 283.8L361.1 278.8L364.2 278.1L369.9 276.2L371.8 273.8Z"/>
<path fill="#fc8d59" d="M397 257.2L398 257.5L418 265.6L426.8 265.6L426.8 292.5L405.5 301.2L395.5 298.8L393 292.5L395.8 286.2L396.8 285L394.9 281.9L394.2 278.8L396.1 275L397.4 270L398 263.8Z"/>
<path fill="#e34a33" d="M419.5 261.2L455 261.2L455 272.5L450 271L446.5 280L445.5 285L445 286.2L442 288.8L438.8 287.5L436.2 291.2L432.5 292.5L427.5 292.5L423.8 291.2L420 292.5L417.5 288.8L415 285L414.5 280L416.2 275L417.5 270L419.5 266.2Z"/>
<path fill="#fef0d9" d="M450 271L446.5 280L452 280.5L458 282.5L461.5 285L466.2 287.5L465 282.5L457.5 275L452.5 270Z"/>
<path fill="#fef0d9" d="M460 287.5L462 287L466.2 285L465 290.5L463 290.5Z"/>
<path fill="#fc8d59" d="M461.9 290.6L463.8 288.8L466.2 288.1L487.5 285L487.5 322.5L455 322.5L458.1 321.2L457.5 316.2L457.5 310L459.4 307.5L461.2 304.4L465.6 302.5L469.4 299.4L471.9 296.9L468.8 295.6L465 293.1Z"/>
<path fill="#fc8d59" d="M443.8 302.5L446.9 305L450 306.2L453.8 308.1L457.5 306.2L459.4 307.5L457.5 310L457.5 316.2L458.1 321.2L460 326.2L453.8 329.4L450.6 326.9L446.2 323.1L441.9 320.6L440.6 320.2L442.5 316.2L443.1 311.9L441.9 308.1L441.9 305Z"/>
<path fill="#fc8d59" d="M432.8 320.6L436.2 320.2L440.6 320.2L441.9 320.6L446.2 323.1L450.6 326.9L453.8 329.4L462.5 330L462.5 345L455.6 345L452.5 346.2L448.8 347.2L445 348.1L442.5 346.9L440 343.1L436.9 341.2L433.8 340L431.9 336.2L431 332.5L431.2 329.4L432.2 328.1L433.5 325.6L434 322.5Z"/>
<path fill="#fc8d59" d="M442.5 346.9L445 348.1L448.8 347.2L452.5 346.2L455.6 345L465 343.8L465 360L442.5 360L443.8 358.8L444.4 355L443.1 351.2L441.9 347.5L438 363.8L438 370L437 373.8L435 378.8L436.2 382.5L440 387.5L462.5 387.5L462.5 362.5Z"/>
<path fill="#fc8d59" d="M442.5 348.8L462.5 345L462.5 390L436.2 390L436.2 382.5L435 378.8L437 373.8L438 370L438 363.8L438.8 357.5L442.5 360L444.5 357.5L442.5 352.5Z"/>
<path fill="#fdbb84" d="M418.8 293.1L420.6 291.2L425 291.9L431.2 291.2L436.2 290L437.5 286.2L440 290.6L441.2 295L441.9 298.8L443.8 302.5L441.9 305L438.8 306.9L435 308.1L431.2 306.9L428.1 305.6L425.6 302.5L422.5 298.8L420 295.6Z"/>
<path fill="#b30000" d="M440 290.6L441.9 286.2L445 284.4L446.5 279.8L452 280.2L458 282.2L459.8 286.2L459.4 288.8L461.9 290.6L465 293.1L468.8 295.6L471.9 296.9L469.4 299.4L465.6 302.5L461.2 304.4L457.5 306.2L453.8 308.1L450 306.2L446.9 305L443.8 302.5L441.9 298.8L441.2 295Z"/>
<path fill="#fc8d59" d="M435 308.1L438.8 306.9L441.9 305L441.9 308.1L443.1 311.9L442.5 316.2L440.6 320.2L436.2 320.2L432.8 320.6L431.9 317.5L433.1 313.8L433.8 310.6Z"/>
<path fill="#fdd49e" d="M430.6 321.9L432.8 320.6L434 322.5L433.5 325.6L432.2 328.1L430.6 328.8L430.2 325.6Z"/>
<path fill="#fdd49e" d="M321.8 273.8L326.8 273.5L329.9 275L333 278.1L335.5 280.6L336.8 284.4L334.2 285L330.5 284.8L326.8 285.6L324.9 285L321.8 285Z"/>
<path fill="#fdd49e" d="M323 285L326.8 285.6L329.9 285L330.5 286.9L328.6 288.5L326.8 289.4L323 287.8Z"/>
<path fill="#fc8d59" d="M328.6 288.5L330.5 286.9L329.9 285L334.2 285L336.8 284.4L338.6 285.6L341.1 286.2L343 288.1L343.6 291.2L344.2 293.8L343 296.2L341.8 294.4L339.9 292.5L338 291.2L335.5 290.6L333.6 291.9L331.8 292.5L329.9 293.8L326.8 289.4Z"/>
<path fill="#fdd49e" d="M333 292.5L335.5 291L338 291.5L339.2 293.8L338.6 296.2L336.8 298.8L334.2 300L331.1 293.8Z"/>
<path fill="#fdd49e" d="M336.8 298.8L338.6 296.2L340.5 295.6L342.4 297.5L343.6 300L344.9 303.1L345.5 307.5L339.2 306.2L334.2 300Z"/>
<path fill="#fc8d59" d="M343.6 291.2L346.1 290.6L349.2 291.2L352.4 290.6L354.9 291.9L355.5 295L355.2 298.8L356.1 302.5L356.1 306.9L345.5 307.5L344.9 303.1L343.6 300L344.2 296.2L344.2 293.8Z"/>
<path fill="#fdbb84" d="M351.1 287.5L353 284.4L355.5 282.5L358.6 280L361.1 278.8L363 280.6L364.9 283.1L367.4 285L366.1 286.9L364.9 288.5L363 288.8L360.5 288.1L356.8 288.5L354.9 290L352.4 290.6L350.8 290Z"/>
<path fill="#fdbb84" d="M355.5 288.8L360.5 288.1L363 288.8L363.6 292.5L364.5 296.2L364.9 300L365.2 305L356.1 306.9L356.1 302.5L355.2 298.8L355.5 295L354.9 291.9Z"/>
<path fill="#fdd49e" d="M363 288.8L364.9 288.5L365.5 292.5L366.5 297.5L367 303.8L365.2 304.4L364.9 300L364.5 296.2L363.6 292.5Z"/>
<path fill="#fc8d59" d="M364.9 288.5L366.1 286.9L368 285.6L370.5 286.2L371.1 288.8L369.9 291.2L369.5 296.2L369.5 303.1L367 303.8L366.5 297.5L365.5 292.5Z"/>
<path fill="#fc8d59" d="M395.8 286.2L396.8 285L396.1 288.1L396.8 290.6L398 292.5L396.1 294.4L398 296.9L397.4 299.4L396.8 302.5L398 306.2L399.2 308.8L400.5 310.6L398 311.2L393 311.2L388.6 311.5L385.5 311.9L380.5 311.9L380.5 305.6L383 303.1L385.5 300L387.4 299.4L389.2 298.1L391.1 295L393 292.5L394.5 289.4Z"/>
<path fill="#b30000" d="M371.1 288.8L371.8 283.8L373.6 281.9L376.8 282.5L380.5 283.1L384.2 283.5L388 282.8L391.8 282.5L394.2 283.1L395.8 286.2L394.5 289.4L393 292.5L391.1 295L389.2 298.1L387.4 299.4L385.5 300L383 303.1L381.8 308.8L373 307.5L369.5 303.1L369.5 296.2L369.9 291.2Z"/>
<path fill="#fc8d59" d="M398 296.9L400.5 296.9L404.2 295.6L408 294.4L413 291.2L416.8 288.1L418.6 291.2L420.5 294.4L422.4 296.9L424.2 298.8L426.8 302.5L424.2 304.4L420.5 304.4L416.8 305L413 306.2L409.2 305L406.8 305.6L404.9 308.1L403 308.1L400.5 310.6L399.2 308.8L398 306.2L396.8 302.5L397.4 299.4Z"/>
<path fill="#fdd49e" d="M380.5 311.9L389.2 311.9L389.2 315L380.5 315Z"/>
<path fill="#fdd49e" d="M380.5 315L389.2 315L389.2 311.9L393 311.5L394.9 313.8L396.1 316.9L395.5 320L393 321.2L392.4 323.8L389.9 325L388.6 327.5L386.1 328.8L380.5 325Z"/>
<path fill="#fdbb84" d="M393 311.5L398 311.2L400.5 310.6L403 308.1L404.9 308.1L404.2 311.2L403 315L401.8 318.8L399.9 322.5L398.6 326.2L396.1 328.1L393 329.4L390.5 331.2L386.1 330L388.6 327.5L389.9 325L392.4 323.8L393 321.2L395.5 320L396.1 316.9L394.9 313.8Z"/>
<path fill="#fc8d59" d="M395 333.1L400 333.1L401.9 333.8L403.1 336.9L405 337.5L407.5 336.9L411.2 336.2L413.5 337.5L413.8 341.2L414.4 344.4L416.2 345L418.8 345.6L417.5 347.5L416.2 350.6L413.5 351.2L413.1 355L412.5 360L395 362L389.5 362.5L385 362.5L385 330Z"/>
<path fill="#b30000" d="M405 306.9L407.5 305L412.5 305.6L417.5 304.8L422.5 304.4L425.6 305.6L428.1 305.6L431.2 306.9L433.8 308.8L433.8 310.6L433.1 313.8L431.9 317.5L431 321.2L430.2 325.6L430.6 328.8L431 332.5L431.9 336.2L432.8 339.4L430 340L428.5 341.9L429 346.2L430 350L428.8 350.6L426.9 348.1L425 346.9L421.9 346.2L418.8 345.6L416.2 345L414.4 344.4L413.8 341.2L413.5 337.5L411.2 336.2L407.5 336.9L405 337.5L403.1 336.9L401.9 333.8L400 333.1L395 334L395 331.9L397.5 330.6L400 326.2L401.9 322.5L403.8 317.5L404.4 312.5Z"/>
<path fill="#fdbb84" d="M428.5 341.9L430 340L432.8 339.4L436.2 340L438.8 341.9L440.6 343.8L441.2 347.5L440 351.2L437.5 353.8L435 355L432.5 356.9L430 358.8L427.5 360L425 363.8L421.2 367.5L417.5 363.8L413.8 362.5L413 356.2L412.5 351.2L413.5 351.2L416.2 350.6L417.5 347.5L418.8 345.6L421.9 346.2L425 346.9L426.9 348.1L428.8 350.6L430 350L429 346.2Z"/>
<path fill="#fdbb84" d="M438.8 341.9L440.6 343.8L441.9 347.5L443.1 351.2L444.4 355L443.8 358.8L442.5 360.6L441.2 357.5L440.6 355L439.8 352.5L440 351.2L441.2 347.5Z"/>
<path fill="#fdd49e" d="M385 362.5L395 362L403.8 362.5L411.2 363.8L416.2 363L411.2 365L410 371.2L409.5 378.8L408 386.2L406.2 391.2L402.5 392.5L400 395L385 395Z"/>
<path fill="#fef0d9" d="M411.2 365L417.5 363.8L421.2 367.5L425 371.2L428.8 375L425 378.8L421.2 381.2L417.5 383.8L412.5 385.5L408.8 386.2L409.5 378.8L410 371.2Z"/>
<path fill="#fdd49e" d="M421.2 367.5L425 363.8L430 360L435 359.5L438 363.8L437.5 370L433.8 374.5L428.8 375L425 371.2Z"/>
<path fill="#fc8d59" d="M401.2 393.8L406.2 391.2L408 386.2L412.5 385.5L417.5 383.8L421.2 381.2L425 378.8L428.8 375L433.8 374.5L436.2 378.8L436.2 382.5L438.8 383.8L442.5 390L435 412.5L400 412.5L395 392.5Z"/>
<path fill="#fef0d9" d="M423 394.5L425.5 392.5L428 394.5L425.5 397Z"/>
<path fill="#fef0d9" d="M432 385.5L434 384.5L435 387L433 388.5Z"/>
</g>
<path fill="none" d="M350.5 224L352.5 225L355.5 225.5L358.5 225L363 223L368 221.5L373 221L378 220.5L381.5 220L384 220.5L386.5 221L387 223L386 225.5L387.5 228L388.5 230.5L389 232L390.5 231.8L393.5 232.5L397 233.5L400 235L403 236.5L406 237L407.5 234L409.5 232.5L412 233L415 234L418 235L421 235.5L425 236L429 236.5L433 236L436 236.5L436 234.5L438.5 235.5L439.5 237L440.7 239L440.5 241.5L440 244.5L439 243.5L437 241.5L435 239.8L436 242L438.5 245L440 248L442 251.5L444 255L445.5 258L446.5 260.5L446.8 264L447.5 267L449 269.5L450 271L452 274L454.5 277L457.5 280L460 283L461.5 285L462.5 286.2L463.8 288.8L468.8 289.5L475 288L480.5 286.2L480 291.2L477.5 297.5L473.8 305L470 311.2L465 317.5L460 323.8L457.5 330L456.2 337.5L455.5 345L456.2 352.5L456.2 352.5L455 358.8L451.2 363.8L446.2 367.5L442 371.2L442.5 375L440 378.8L438.8 383.8L436.2 388.8L433.8 393.8L430 398.8L423.8 402.5L417.5 405L411.2 407L406.2 408L403.8 403.8L402.5 398.8L401.2 393.8L398.8 390L396.2 383.8L393.8 377.5L391.2 370L389.5 362.5L390.5 353.8L392 345L391.2 337.5L392.5 330L390 331.2L386.2 326.2L384.5 321.2L385 316.2L385 311.2L384.2 308.1L383 306.2L380.5 305.6L378 306.2L376.1 305.6L374.9 303.1L373 301.2L369.9 301L367.4 301.5L364.9 302.2L362.4 303.1L359.2 304.4L356.1 305L353 304.4L349.2 305L345.5 306L343 305.6L339.9 303.8L337.4 301.2L334.9 298.1L333 295L331.1 291.9L329.2 289.4L326.8 287.8L324.9 285L324 281.9L323.2 278.1L324.2 273.8L324.9 267.5L325.5 261.9L325.2 257.5L341.5 240L342 236L343.5 233L346 230L348.5 227Z"/>
<path fill="#fdd49e" stroke="none" d="M350.5 223.5L349 222.5L347.5 220.5L345.5 221L343.5 220.5L342.5 215L343 210L343 207L344 204.5L347 203.5L351 203.8L355 204L359.5 204.5L360.5 201.5L360 198.5L358.5 196L356.5 194L354 192.5L353.5 191.2L356.5 190.5L359.5 190L360 188.5L361.5 189.5L364 188.5L366.5 186L368 184.5L370.8 182L373.7 180.3L376.7 178.3L379.7 176.7L379 175L378.5 172L379 169.5L381 168.8L382.8 170.5L382.5 173L383.5 175.5L387 176.2L391 177L395 176L398.5 175.5L401.5 175.2L403.5 175L404.2 172.5L403.5 169.5L404.5 167.5L406.2 168.2L407.5 169.8L408.8 168L407 166.5L405.5 165L409 164.3L413 164L415 163.5L415.5 162.5L414.5 161.5L411 162.2L407 162.8L403.5 162L401.5 160L401 157L402.5 154.5L404.5 152L406 150L404.5 149L403.5 149L401.5 150L399.5 152L397 154L395 156L395 159.5L397 161.5L397.5 164.5L395 166L394 169L392 172L389 173.8L387.5 174.2L387 174L385.5 172L384.5 170L383.5 167L383 164.5L381.5 165L379 166.5L376 167L373.5 165L372.5 161L372.5 158L375 156L379 153.5L382 150.5L385 147L388 143.5L391.5 141L395 139.5L399 138.5L403 137.5L407 137.2L411 137.5L414 138.5L412.5 140.5L417 141L423 142L429 143.5L433.5 145.5L433 147.5L429 148.5L425 148.5L422 147.5L420.5 148L424 150.5L427 152L429 153L431 151.5L434 149.5L437 147.5L439 145.5L437.5 143.5L441 143L442.5 144.5L442 146.5L445 146L448 144.5L450 143.5L451.2 144.5L457.5 142.5L463.8 141.2L467.5 143L472.5 140L476.2 137.5L473.8 135L477.5 133L481.2 135L483.8 138.8L486.2 143.8L488.8 147.5L490.5 145L488.8 140L486.2 136.2L488.8 133.8L493.8 131.2L500 128L506.2 126.2L512.5 125L520 124.5L526.2 126.2L532.5 127.5L538.8 129.5L541.2 132L547.5 132.5L553.8 132L560 131.2L567.5 132.5L573.8 135L578.8 137.5L585 136.2L590 133.8L596.2 134.5L602.5 135.5L607.5 136.2L615 138L622.5 138.8L630 140L637.5 141.2L645 141.2L646.2 139.5L651.2 140L656.2 138.8L662.5 141.2L668.8 145L673.8 148.8L678.8 152.5L685.8 157L681.2 158L677.5 161.2L673.8 162.5L670 163.8L665.5 164.5L667 167.5L671.2 170L674.5 173.8L675.5 180L675 184.5L672.5 181.2L669.5 177.5L666.2 173.8L662.5 170.5L659.5 167.5L658.8 163.8L660 160L658 157.5L655 160L650 159.5L647.5 162.5L645 165L637.5 165.5L630 166.2L626.2 168.8L624.2 173.8L627.5 176.2L632.5 177L637.5 178.8L641.2 182.5L644.5 187.5L646 190L646.5 195L645.5 199.5L643 203.5L640.5 205.5L638.5 205L637.5 206L637.8 207L636.8 209.5L635.5 212L634.5 214.5L636.5 216.5L637.2 217.2L639.5 218.5L642 221L643.5 224L642.5 226.2L640 227.2L637.8 226.5L636.5 224L635.5 221L635 218.5L632.5 217.8L630.5 216L629 214.5L627.5 212L625 214.5L623 215L621.5 212.5L620 211.2L615 216.2L617.5 218.5L621 219.5L624 219L626.5 220.5L625 223L622.5 225.5L625 228L628 232L631 236L633 240L633.8 246.2L632.5 245L631.5 249L629.5 252.5L627 255L624 257L621 259L618 260.5L615 261.5L613.5 262.2L613 264.5L611.8 264.5L611.5 262.2L609 261.5L606.5 261L605 262.5L603 264L601.5 266L602 268.5L604 270.5L607 273L609.5 275.5L611.5 278.5L612.8 282L613 285.5L611.5 288L609 290.5L606 293L604 294.5L603.8 292L605 290L602.5 289L600 288L598.5 285L596.5 284.8L594.5 284.5L592.5 283L591.5 285L591 288L591.5 291L592.5 293.5L594 296L595.5 298.5L597.5 300.5L599.5 302.5L600.5 305L602 307.5L603.8 310.5L604.5 314.5L600 314L597 310.5L594.5 306.5L595.5 305L594.5 303.5L593 300.5L591.5 297.5L589.5 295L589 292L589.5 289L588.5 285L587 281L585.8 277L585 272.5L583.5 274.5L581 276L579 275L577 271L575 266.5L572.5 262.5L571.2 257.5L571.2 257.5L570 258.5L568 258L566 260L564 259.5L563 260.5L560 263.5L557 267.5L553 272L549 275.5L546.5 278L546.2 282L546.5 287L545.5 291L543 294.5L541.5 296.5L539.5 294.5L537 289.5L534.5 284L532.5 278.5L530 272L528 265.5L527 261.5L523.5 262.8L520 260.5L518.5 257.5L517 255L513.8 252.5L508.8 252L505 250.8L503 251L499 251.5L495 251.5L492 251L490.5 249L489 247.5L486 248.5L483 247.5L480 246L477.5 244L475 241.5L473 239.5L471 239L469.8 240L470.5 241.2L472 243L474.5 246.5L476 249L477.2 249.5L478.5 250L478.8 252.5L479 254L481 255L484 254.5L486.5 253.5L488.5 251.5L489.2 249L490 250.5L490 252.5L491.5 253.5L493.5 255L496 257L497.8 259L497 261.5L495.5 264.5L494 267L491.5 269.5L488 272L484 273.5L482 275.5L478 278L473 280.5L468 283L464 284.5L463 283L462 279.5L461 276L460 273L458.5 270.5L456.5 267L454 264L452 260.5L450.5 257L448.5 254L445.5 250L442.5 246L441 244L440.5 241.5L440.7 239L439.5 237L438.8 235.5L439.5 234L440 231L441 228L441.2 225L441.5 223L440.5 222L438 223L435 221.8L432.5 221L430 222L427.5 221.5L424.5 220.5L422.5 219L421 217L420 215L420.5 212.5L421.5 211.5L421 210.5L419 210L417 210.5L415 211.5L414 211L411.5 210.5L412 212.5L413.5 213.5L412.5 215L414.5 216.5L414 218L412.5 218.5L413 220.5L411.5 222L410 221L408.5 219.5L406.5 217.5L405 215.5L404 214L404.5 211.5L402.5 209.2L400 207L397.5 205L395.5 203L393.5 201L392.2 199.2L390.5 198.2L389.2 199.7L390 201.7L392 204.3L394 206.8L396 208.8L398.5 210.3L400.8 211.7L401.8 213.2L400 212.5L398.5 213.5L399.5 215L399 217L397.5 218.5L396.2 219.5L397 218L396.2 216.2L394.5 214.5L392 212.5L389.5 210L387 207.5L385 205L383 202.8L380.5 201.8L378 202.5L376 203.5L376 203.8L373.5 204.5L371 205.5L369.5 206.8L369 207.2L366.5 209L364 211.5L362.5 214L362 216.5L360 219.5L357.5 221.5L353.5 222.5Z"/>
<g clip-path="url(#L4)">
<path fill="#fc8d59" d="M540 187.5L600 187.5L600 182.5L602.5 179.5L609 180L613 182.5L618 186L623 189.5L629 192.5L633 193L636 191.5L637.5 194L637.5 198L635 200L635.5 202.5L637.5 204.5L645 210L645 275L615 265L600 262.5L590 266.2L587 266.2L583.8 260L580 250L575 247.5L560 250L550 246.2L540 242.5L535 235L525 230L520 220L522.5 210L526.2 200L532.5 190Z"/>
<path fill="#fef0d9" d="M540 188.8L547.5 186.2L553.8 184.5L558.8 182.5L565 185L572.5 187L580 186.2L587.5 187.5L593.8 186.2L598.8 188.8L602.5 192.5L607.5 194.5L603.8 197L598.8 198.8L595 200L592.5 203.8L587.5 207L581.2 208L575 206.2L567.5 205L560 202L553.8 200L547.5 197.5L543.8 193.8L540 191.2Z"/>
<path fill="#fc8d59" d="M627.5 212L630 210L632 207.5L634.5 206L637 205L637.8 206.2L640 210L638 216L636.5 216.5L635 218.2L634 219.5L630 218L627 214Z"/>
<path fill="#fef0d9" d="M635 218.3L636.5 216.6L640 218L644 222L644 227L638 228L635 223L634.5 219.5Z"/>
<path fill="#fef0d9" d="M457.5 187.5L463.8 184.5L472.5 183.8L481.2 181.2L483.8 176.2L490 174.5L497.5 173.8L505 176.2L511.2 177.5L517.5 182.5L525 185L532.5 186.2L538.8 188.8L536.2 192.5L533 195L533.8 199.5L530 202L526.2 205L526.2 211.2L510 215L490 210L477.5 212.5L465 210L461.2 198.8L460 193.8L458 190.5Z"/>
<path fill="#fef0d9" d="M478.8 200L482.5 198.8L486.2 199.5L490 202L496.2 203.8L502.5 205L507 208L510 210L515 215L507.5 222.5L498.8 222.5L485 217.5L477.5 212.5L477.5 208.8L479.5 205Z"/>
<path fill="#fef0d9" d="M471.2 212.5L475 212L479.5 211.2L482.5 208.8L487.5 210L492.5 213.8L497.5 217.5L501.2 219.5L505.5 223L496.5 224.5L494 222L490 220.5L486 219.5L482 219L479 218.5L475 219.5L471.2 218.8Z"/>
<path fill="#fdd49e" d="M510 210L513.8 207L520 206.2L526.2 205L530 206.2L527.5 210L522.5 212L517.5 213L513.8 212.5L511.2 212Z"/>
<path fill="#fef0d9" d="M508.8 213.8L511.2 212L513.8 212.5L517.5 213L522.5 212L523.8 215.5L524.5 220L518.8 220.5L515 222L511.2 220L507.5 220.5L508 216.2Z"/>
<path fill="#e34a33" d="M495.8 225.8L497.5 223.3L502.5 221.7L508.3 219.2L513.3 218.3L515.8 217.5L517.5 220L521.7 219.7L526.7 220.3L523.3 222.5L519.2 222L517.5 225.8L516.7 230L513.3 235.8L510 237.5L505.8 240L500.8 240.3L498.3 238.3L497 233.3L495.8 229.2Z"/>
<path fill="#b30000" d="M525 227.5L528.8 225L533.8 226.2L536.2 230L535 233.8L538.8 237.5L541.2 238.8L560 247.5L562 243.8L568.8 242.5L573.8 241.2L577.5 242L579.5 245L580 252.5L575 262.5L565 262.5L560 265L550 305L535 300L515 265L512.5 250L520 240L522.5 230Z"/>
<path fill="#e34a33" d="M500.8 240.3L505.8 240L510 237.5L513.3 235.8L516.7 230L517.5 225.8L519.2 222L523.3 222.5L526.7 220.3L530.8 222.5L530 225.8L525.8 226.7L524.2 229.2L526.7 233.3L525.8 238.3L523.3 241.7L520 244.2L518.3 248.3L520 252.5L518.3 257.5L500 257.5L500.8 250.8L501.7 247.5L504.2 245L502.5 242.5Z"/>
<path fill="#fdd49e" d="M541 238.5L545 237.5L550 239.5L555 242L560.5 244.5L560.5 248.5L556 248L548 245.5L541 242Z"/>
<path fill="#fef0d9" d="M561.5 244.8L565 244L568.5 245L568 247.2L564 247.8L561.5 246.8Z"/>
<path fill="#fc8d59" d="M561 249.5L564 248.5L567 250L570 253L569 256.5L570.5 259L568.8 263.8L562.5 263.8L562.5 255L561.5 252Z"/>
<path fill="#fc8d59" d="M573.8 252.5L576.2 248.8L579.5 245L582.5 245L582 249L583.5 252L583 254.5L585 256.5L587.5 259L590 260L591 261L593.8 265L591.2 275L593.8 290L587.5 292.5L581.2 290L573.8 275L572 262.5L571 258L570.5 254.5L572 253Z"/>
<path fill="#fdd49e" d="M588.5 263.5L590 265L592.5 266.5L593 270L595 271.5L597.5 270L600 270.5L602 273.5L604 276L605 279L602.5 279.5L599.5 280.5L598 282.5L598.5 285L599 288L603 307L587 307L587 290L590 289L590 285L589 281.5L587.5 278L587 275L585.5 272.5L585 269L586.5 266.5Z"/>
<path fill="#fdd49e" d="M595 304.5L597 305L599.5 307.5L602 310L604.5 315L598.8 314.5L596.2 310.5L594 306.5Z"/>
<path fill="#fdd49e" d="M593.5 259L594.5 259L596.5 261.5L599 263.5L600 266L601.2 268.5L603.5 271.5L606 274.5L608 277L608.5 279.5L607 279.5L605 279L604 276L602 273.5L600 270.5L597.5 270L595 271.5L593 270L592.5 266.5L590 265L591 262.5L592.5 261Z"/>
<path fill="#e34a33" d="M594.5 259L597.5 258L600 256.5L602.5 257.5L604 259L606.5 261L608 262L605 265L604 268.5L615 278L615 287L605 296L602 293L605 289.5L606.5 287.5L608.5 286L609.5 283L608.5 279.5L608 277L606 274.5L603.5 271.5L601.2 268.5L600 266L599 263.5L596.5 261.5Z"/>
<path fill="#fdbb84" d="M598 282.5L599.5 280.5L602.5 279.5L605 279L607 279.5L608.5 279.5L609.5 283L608.5 286L606.5 287.5L605 289.5L603 290L599.5 289L597.5 285.5Z"/>
<path fill="#fdd49e" d="M416 205L430 206.5L440 205.5L449 207L455 210L458.5 213L460.5 214.5L459.5 218L458 220L456.5 220L453.2 220.5L450 221L445 221.5L441.5 223.5L440 225L416 225Z"/>
<path fill="#fc8d59" d="M441.5 223.5L445 221.5L450 221L453.2 220.5L452.5 224L451.5 227L448.5 229.5L445 231.5L442.5 232.5L442 230L442.5 227L441.2 225.5L440 224.5Z"/>
<path fill="#fc8d59" d="M453.2 220.5L456.5 220L459.5 222.5L462 225L463 228L465.5 232L468.5 236L469 238.5L466.5 239.5L464.5 241L461 239L457 236.5L453 234.5L449.5 233.5L448.5 231L448.5 229.5L451.5 227L452.5 224Z"/>
<path fill="#fdd49e" d="M442.5 232.5L445 231.5L448.5 229.5L448.5 231L449.5 233.5L446.5 235L445 237L444 239.5L441.5 241L440.5 239L441 236L441.8 233.5Z"/>
<path fill="#fef0d9" d="M439 233L441.2 232L441.8 233.5L441 236L440.5 239L440.2 240L439.2 237Z"/>
<path fill="#fef0d9" d="M440 229L442 228.5L442.5 230L441.2 232L440 231.8Z"/>
<path fill="#fef0d9" d="M467 239.5L469 239L470.5 241L468.5 242.2Z"/>
<path fill="#fef0d9" d="M449 204.5L453 206L457 207.5L460 209L458.5 210L455 210L451.5 208.5L449 207.5Z"/>
<path fill="#fdd49e" d="M460 209L463 208L465.5 210L469.5 211.5L469.5 214.5L467 216L464.5 214.5L462.5 215L461 212.5L458.5 210Z"/>
<path fill="#fef0d9" d="M455 210L458.5 210L461 212.5L462.5 215L460.5 214.5L458.5 213Z"/>
<path fill="#e34a33" d="M460 273L464 272L468 272L472 271L476 269.5L479 268.5L482 269L483.5 271L484 273.5L486 277L464 287L458 281Z"/>
<path fill="#fef0d9" d="M482 269L486 267L488.5 263.5L488 259.5L489 257L489 250.5L490 248L500 258L490 275L484 273.5L483.5 271Z"/>
<path fill="#fef0d9" d="M479.5 254.5L481 255L482 257L486 257.5L488 259.5L489 257L489 250.5L487 251.5L484 253.5Z"/>
<path fill="#fef0d9" d="M476.6 249.5L478.2 249.2L479 252.5L477.2 253Z"/>
<path fill="#fdd49e" d="M409 189.5L409 187.5L410.5 185L412.5 183.5L416 183L420 183.5L424 183L427 181.5L430 181.5L431.5 183.5L434.5 184.5L437.5 186.5L440.5 187.5L443.5 189L443 192L441.5 194L440 198L437 203L432 202L430 198L424 199L422.8 198L420 197L415 194L410 194Z"/>
<path fill="#fdd49e" d="M390.5 178L391 175L401 175L401.5 176L405 175.5L408.5 177L409.5 180L409 183L410.5 185L409 187.5L409 189.5L407 189L404 188.5L401 188L398 187L395 185.5L392.5 184.5L391.5 181.5Z"/>
<path fill="#fdd49e" d="M388 187.5L390 185.5L392.5 184.5L395 185.5L398 187L400.5 188.5L399 190L396.5 191L393.5 191.2L391 190.5L389 189.5Z"/>
<path fill="#fdd49e" d="M389 192L391 190.5L393.5 191.2L396.5 191L399 190L399.5 191.8L398.8 193L397 194.5L394 195L391.5 194.5L389.5 194L386 194.2L384.5 193L387 192Z"/>
<path fill="#fdd49e" d="M407.5 194.5L409 192.5L411.5 193L414.5 192.2L417.5 192L419 193.5L420.5 195.5L421.5 198L422.8 198L424.5 199.5L422 201.5L420 202.8L416.5 203L413.5 203.5L411 202.8L409 201L407 198.5L406 196.8Z"/>
<path fill="#fef0d9" d="M417.5 192L419 191.5L421 193.5L422.5 196L422.8 198L421.5 198L420.5 195.5L419 193.5Z"/>
<path fill="none" d="M376.6 198.2L377.2 200.6L376 203.2"/>
<path fill="none" d="M359.5 204.5L363 205.5L366 206.2L369.5 206.8"/>
<path fill="#fef0d9" d="M383.5 165L385 162L384.5 158L385 154L388 150L389 146.5L391.5 144.5L395 143.5L397 141.5L399.5 142L401.5 141.5L404 142.5L406 140.5L408 139.8L410.5 141L411.5 141.5L412.5 140.5L417 137L403 135L385 143L369 158L371 169L383 168Z"/>
<path fill="#fef0d9" d="M383.5 165L385 162L384.5 158L385 154L388 150L389 146.5L391.5 144.5L395 143.5L397 141.5L399.5 142L401.5 141.5L403 145L403.5 149L404 149.5L400.5 153L398 157L399 162L400 167L395 175L387 176L382 169Z"/>
<path fill="#fef0d9" d="M401.5 141.5L404 142.5L406 140.5L408 139.8L410.5 141L411.5 141.5L412 143L413 145L415 148L416.5 151L417.5 154L419.5 156.5L417 159L414.5 161.5L415 163.8L407 164.2L403 163.5L399 162L398 157L400.5 153L404 149.5L403.5 149L403 145Z"/>
<path fill="#fef0d9" d="M378 168L384 168L388.5 172L388 175.5L383.5 175.5L382.8 175L380 175.5L379 175L377.5 172Z"/>
<path fill="#fef0d9" d="M404.5 164.5L409 163.5L415 163.3L415.5 165L414.5 167.5L411 167.8L408 167L405.5 167.5L404 166Z"/>
<path fill="#fef0d9" d="M403 169L404.5 167.5L405.5 167.5L408 167L411 167.8L414.5 167.5L416 169.5L415 171.8L412 172L409 171.2L406 171.5L403 172Z"/>
<path fill="#fef0d9" d="M403 172L406 171.5L409 171.2L412 172L415 171.8L414.5 174L413 176L410.5 177L408 176.5L405 175L403.5 175Z"/>
<path fill="#fef0d9" d="M409.5 180L411 177.5L413 175L413 173L415.5 173L419 173.5L422 175L425 177L426.5 179L425 180.5L424 183L420 183.5L416 183L412.5 183.5L410.5 185L409 183Z"/>
<path fill="#fdbb84" d="M376.6 178.6L378.9 177.6L380.7 176.1L382.5 175.3L385.4 173.5L390.7 173.5L391.3 180.6L392.2 184.1L390.1 185.9L388.4 187.6L390.1 190.6L388.9 192.4L386.6 192.6L383.1 192.9L380.7 192.4L378.4 192.9L377.8 190.6L376.6 188.8L375.4 186.5L376 183.5L377.2 181.2Z"/>
<path fill="#fef0d9" d="M367.8 185.3L370.1 183.9L373.1 184.1L374.8 185.9L374.8 187.6L371.3 186.7L367.5 185.9Z"/>
<path fill="#fef0d9" d="M374.8 187.6L375.8 187.1L376.2 188.8L375.3 189.2Z"/>
<path fill="#fef0d9" d="M376 195.3L377.8 193.8L380.7 194.1L383.1 194.7L382.5 196.8L380.1 197.6L377.8 197.1L376.6 198.2Z"/>
<path fill="#fef0d9" d="M344.5 207.5L347.5 207.8L349 209L348 212L347.5 215L348 218L347.5 220.5L345.5 222L341 221L341 207.5Z"/>
<path fill="#fef0d9" d="M399 190L400.5 188.5L404 188.5L407 189L409 189.5L408 191.2L405 191.8L401.5 192L399.5 191.8Z"/>
<path fill="#fef0d9" d="M397 194.5L398.8 193L399.5 191.8L401.5 192L405 191.8L408 191.2L409 192.5L407.5 194.5L405.5 196.5L402.5 197.5L399.5 197.2L397.5 196Z"/>
<path fill="#fef0d9" d="M391.2 194.8L394 195L397 194.5L397.5 196L395 197L391.5 197.2L390.5 196.2Z"/>
<path fill="#fef0d9" d="M391.5 197L395 197L397.5 196L399.5 197.2L402.5 197.8L403 199.5L400 199.5L397.5 199L396 200L397.5 202.5L400 205L402.5 207L400.5 209.5L395 205.5L390 200Z"/>
<path fill="#fef0d9" d="M396 200L397.5 199L400 199.5L403 199.5L404 201.5L403.5 203.5L402.5 205.5L400 205L397.5 202.5Z"/>
<path fill="#fef0d9" d="M402.5 197.5L405.5 196.5L407 198.5L409 201L410 203L409.5 205L408.5 207L406.5 207.5L405 206L404 204.5L403.5 203.5L404 201.5L403 199.5Z"/>
<path fill="#fef0d9" d="M402.5 205.5L404 204.5L405 206L405.5 207.5L404 208L402.2 209L400.5 207.5Z"/>
<path fill="#fef0d9" d="M404 208L405.5 207.5L406.5 209.5L406 212.5L405 213.8L402 213L402.2 209Z"/>
<path fill="#fef0d9" d="M406.5 207.5L408.5 207L410.5 208L410 210L407.5 210.5L406.5 209.5Z"/>
<path fill="#fef0d9" d="M411 202.8L413.5 203.5L416.5 203L420 202.8L422 203.5L420.5 206.5L419 208.5L416.5 209L413.5 209.5L411 209L410 207L409.5 205L410 203Z"/>
<path fill="#fef0d9" d="M406 212.5L406.5 209.5L407.5 210.5L410 210L413.5 209.5L416.5 209L419 208.5L419.5 210L417 211L414 212L415 215L416 221L415 225L409 225L405 221L403 214L405 213.8Z"/>
</g>
<path fill="none" d="M350.5 223.5L349 222.5L347.5 220.5L345.5 221L343.5 220.5L342.5 215L343 210L343 207L344 204.5L347 203.5L351 203.8L355 204L359.5 204.5L360.5 201.5L360 198.5L358.5 196L356.5 194L354 192.5L353.5 191.2L356.5 190.5L359.5 190L360 188.5L361.5 189.5L364 188.5L366.5 186L368 184.5L370.8 182L373.7 180.3L376.7 178.3L379.7 176.7L379 175L378.5 172L379 169.5L381 168.8L382.8 170.5L382.5 173L383.5 175.5L387 176.2L391 177L395 176L398.5 175.5L401.5 175.2L403.5 175L404.2 172.5L403.5 169.5L404.5 167.5L406.2 168.2L407.5 169.8L408.8 168L407 166.5L405.5 165L409 164.3L413 164L415 163.5L415.5 162.5L414.5 161.5L411 162.2L407 162.8L403.5 162L401.5 160L401 157L402.5 154.5L404.5 152L406 150L404.5 149L403.5 149L401.5 150L399.5 152L397 154L395 156L395 159.5L397 161.5L397.5 164.5L395 166L394 169L392 172L389 173.8L387.5 174.2L387 174L385.5 172L384.5 170L383.5 167L383 164.5L381.5 165L379 166.5L376 167L373.5 165L372.5 161L372.5 158L375 156L379 153.5L382 150.5L385 147L388 143.5L391.5 141L395 139.5L399 138.5L403 137.5L407 137.2L411 137.5L414 138.5L412.5 140.5L417 141L423 142L429 143.5L433.5 145.5L433 147.5L429 148.5L425 148.5L422 147.5L420.5 148L424 150.5L427 152L429 153L431 151.5L434 149.5L437 147.5L439 145.5L437.5 143.5L441 143L442.5 144.5L442 146.5L445 146L448 144.5L450 143.5L451.2 144.5L457.5 142.5L463.8 141.2L467.5 143L472.5 140L476.2 137.5L473.8 135L477.5 133L481.2 135L483.8 138.8L486.2 143.8L488.8 147.5L490.5 145L488.8 140L486.2 136.2L488.8 133.8L493.8 131.2L500 128L506.2 126.2L512.5 125L520 124.5L526.2 126.2L532.5 127.5L538.8 129.5L541.2 132L547.5 132.5L553.8 132L560 131.2L567.5 132.5L573.8 135L578.8 137.5L585 136.2L590 133.8L596.2 134.5L602.5 135.5L607.5 136.2L615 138L622.5 138.8L630 140L637.5 141.2L645 141.2L646.2 139.5L651.2 140L656.2 138.8L662.5 141.2L668.8 145L673.8 148.8L678.8 152.5L685.8 157L681.2 158L677.5 161.2L673.8 162.5L670 163.8L665.5 164.5L667 167.5L671.2 170L674.5 173.8L675.5 180L675 184.5L672.5 181.2L669.5 177.5L666.2 173.8L662.5 170.5L659.5 167.5L658.8 163.8L660 160L658 157.5L655 160L650 159.5L647.5 162.5L645 165L637.5 165.5L630 166.2L626.2 168.8L624.2 173.8L627.5 176.2L632.5 177L637.5 178.8L641.2 182.5L644.5 187.5L646 190L646.5 195L645.5 199.5L643 203.5L640.5 205.5L638.5 205L637.5 206L637.8 207L636.8 209.5L635.5 212L634.5 214.5L636.5 216.5L637.2 217.2L639.5 218.5L642 221L643.5 224L642.5 226.2L640 227.2L637.8 226.5L636.5 224L635.5 221L635 218.5L632.5 217.8L630.5 216L629 214.5L627.5 212L625 214.5L623 215L621.5 212.5L620 211.2L615 216.2L617.5 218.5L621 219.5L624 219L626.5 220.5L625 223L622.5 225.5L625 228L628 232L631 236L633 240L633.8 246.2L632.5 245L631.5 249L629.5 252.5L627 255L624 257L621 259L618 260.5L615 261.5L613.5 262.2L613 264.5L611.8 264.5L611.5 262.2L609 261.5L606.5 261L605 262.5L603 264L601.5 266L602 268.5L604 270.5L607 273L609.5 275.5L611.5 278.5L612.8 282L613 285.5L611.5 288L609 290.5L606 293L604 294.5L603.8 292L605 290L602.5 289L600 288L598.5 285L596.5 284.8L594.5 284.5L592.5 283L591.5 285L591 288L591.5 291L592.5 293.5L594 296L595.5 298.5L597.5 300.5L599.5 302.5L600.5 305L602 307.5L603.8 310.5L604.5 314.5L600 314L597 310.5L594.5 306.5L595.5 305L594.5 303.5L593 300.5L591.5 297.5L589.5 295L589 292L589.5 289L588.5 285L587 281L585.8 277L585 272.5L583.5 274.5L581 276L579 275L577 271L575 266.5L572.5 262.5L571.2 257.5L571.2 257.5L570 258.5L568 258L566 260L564 259.5L563 260.5L560 263.5L557 267.5L553 272L549 275.5L546.5 278L546.2 282L546.5 287L545.5 291L543 294.5L541.5 296.5L539.5 294.5L537 289.5L534.5 284L532.5 278.5L530 272L528 265.5L527 261.5L523.5 262.8L520 260.5L518.5 257.5L517 255L513.8 252.5L508.8 252L505 250.8L503 251L499 251.5L495 251.5L492 251L490.5 249L489 247.5L486 248.5L483 247.5L480 246L477.5 244L475 241.5L473 239.5L471 239L469.8 240L470.5 241.2L472 243L474.5 246.5L476 249L477.2 249.5L478.5 250L478.8 252.5L479 254L481 255L484 254.5L486.5 253.5L488.5 251.5L489.2 249L490 250.5L490 252.5L491.5 253.5L493.5 255L496 257L497.8 259L497 261.5L495.5 264.5L494 267L491.5 269.5L488 272L484 273.5L482 275.5L478 278L473 280.5L468 283L464 284.5L463 283L462 279.5L461 276L460 273L458.5 270.5L456.5 267L454 264L452 260.5L450.5 257L448.5 254L445.5 250L442.5 246L441 244L440.5 241.5L440.7 239L439.5 237L438.8 235.5L439.5 234L440 231L441 228L441.2 225L441.5 223L440.5 222L438 223L435 221.8L432.5 221L430 222L427.5 221.5L424.5 220.5L422.5 219L421 217L420 215L420.5 212.5L421.5 211.5L421 210.5L419 210L417 210.5L415 211.5L414 211L411.5 210.5L412 212.5L413.5 213.5L412.5 215L414.5 216.5L414 218L412.5 218.5L413 220.5L411.5 222L410 221L408.5 219.5L406.5 217.5L405 215.5L404 214L404.5 211.5L402.5 209.2L400 207L397.5 205L395.5 203L393.5 201L392.2 199.2L390.5 198.2L389.2 199.7L390 201.7L392 204.3L394 206.8L396 208.8L398.5 210.3L400.8 211.7L401.8 213.2L400 212.5L398.5 213.5L399.5 215L399 217L397.5 218.5L396.2 219.5L397 218L396.2 216.2L394.5 214.5L392 212.5L389.5 210L387 207.5L385 205L383 202.8L380.5 201.8L378 202.5L376 203.5L376 203.8L373.5 204.5L371 205.5L369.5 206.8L369 207.2L366.5 209L364 211.5L362.5 214L362 216.5L360 219.5L357.5 221.5L353.5 222.5Z"/>
<path fill="#ffffff" d="M460 200L464 197L469 196L472 198L471 201L468 202.5L469.5 205L472 206.5L474 208L475.5 210L477 211L478.5 215L479 218.5L477 220.5L473 221L470 220L468.5 217.5L469 214.5L470 212L469.5 209.5L468 207L465.5 204.5L463.5 202.5Z"/>
<path fill="#ffffff" d="M422.5 199.5L424 198L427 197L430 197L432 198.5L433 200.5L435.5 201.2L437.5 200L440 200L444 201.5L448 203.5L451 205L450 207L449 209L444 208L439 207.5L434 208L430 209.5L426 211L423 211.5L421.5 209.5L422 207L421.5 204L422 201.5Z"/>
<path fill="#ffffff" d="M434.5 197.5L436 196.2L438.5 195.2L441.2 194.5L440 197L438 198.5L436.5 198.8Z"/>
<path fill="#ffffff" d="M476.2 207.5L478 207L479 210L477.5 211.5Z"/>
<path fill="#fdbb84" d="M351.9 167.6L353.6 166.5L356.6 166.2L357.8 167.6L356 168.8L358.4 169.4L358.9 171.8L357.8 173.5L359.5 175.3L361.3 177.6L363.1 179.4L365.4 180.8L366.4 182.9L365.4 184.7L362.5 185.3L358.9 185.9L355.4 186.5L352.5 187.6L351.5 186.7L354.2 185.1L356 184.1L353.6 183.5L353.4 181.8L355.4 180.8L356.6 178.8L354.8 177.6L353.6 175.3L352.5 173.5L353.1 171.2L351.9 169.4Z"/>
<path fill="#fef0d9" d="M344.2 177.6L346 175.9L348.4 174.9L349.2 177.1L351.1 177.3L350.7 179.4L349.5 181.5L347.2 182.9L344.8 183.5L343.3 182.7L344 180.6Z"/>
<path fill="#fdbb84" d="M348.4 174.9L350.1 174.4L351.5 175.3L351.1 177.1L349.2 177.1Z"/>
<path fill="#fdd49e" d="M447.5 137.5L447 133.8L450 130L455 127L461.2 125.5L466.2 125L465 127L460 128L455 130.5L452.5 133.8L453.8 137L456.2 138.8L452.5 139.5L449.5 138.8Z"/>
<path fill="#fdd49e" d="M493.8 118L498.8 117L505 118.8L508.8 120.5L506.2 121.5L501.2 120.5L496.2 120Z"/>
<path fill="#fdd49e" d="M510 121.2L515 122L518 123.8L513.8 123.8Z"/>
<path fill="#fdd49e" d="M573.8 127L580 126.2L585 127.5L581.2 128.8L576.2 128.5Z"/>
<path fill="#fdd49e" d="M588.8 128.2L593.8 128L596.2 129.5L591.2 130Z"/>
<path fill="#fdd49e" d="M586.2 132L590 131.5L590.8 133.2L587.5 133.5Z"/>
<path fill="#fdd49e" d="M640 180L644 183L648 186L652 188.5L654.5 190L652.2 190.6L654 194L657.5 196.5L656 197.2L653 195L650.5 191L647 187.5L643 184L639.5 180.5Z"/>
<path fill="#fdd49e" d="M655.5 137L658 137.5L657 138.2Z"/>
<path fill="#fdd49e" d="M655.5 199.5L658 200L661 202.5L665 202.2L666.8 204L664 205.5L663.5 207.5L661 207L659.5 209L657 207L656.5 204L657 201.5Z"/>
<path fill="#fdd49e" d="M660 210L662.5 211L665 214.5L666 219L667.8 223L667.5 225L664 227L661 229.2L659 228.2L657.5 229L654.5 228.2L652 228.8L649.5 229.5L647.8 229L649.5 227L651.5 225.5L654 225L656 224.5L657.2 220.5L659 220.5L660 218L661.5 215L660.5 212.5Z"/>
<path fill="#fdd49e" d="M647 230L649 229.5L651.5 231L652.5 233.5L651.5 236L650 234.5L648.5 233Z"/>
<path fill="#fdd49e" d="M653 229.2L656 228.7L656.5 229.8L654 231Z"/>
<path fill="#fdd49e" d="M381.3 205.8L382.7 205.3L383 208.7L381.7 209.3Z"/>
<path fill="#fdd49e" d="M380.8 210.3L383 210L383.7 214.2L381.3 215Z"/>
<path fill="#fdd49e" d="M390 219.7L393.3 218.7L396.3 218.7L395.3 221.3L392.5 221.7Z"/>
<path fill="#fef0d9" d="M414.2 224.7L416.7 224.3L419.7 225L416.7 225.8Z"/>
<path fill="#fef0d9" d="M433.3 225.8L435.3 225L438 224.3L436.7 226.3L434.7 227Z"/>
<path fill="#fdd49e" d="M372 215.8L373.7 215.3L374 216.3L372.5 216.7Z"/>
<path fill="#fef0d9" d="M546.2 292.5L548.8 291.2L551.2 295L550.5 300L548 301.2L546.2 297.5Z"/>
<path fill="#fc8d59" d="M609.5 266.5L611 265.2L613.5 265L614.5 266.5L613.5 268.5L611.5 269.5L610 268.5Z"/>
<path fill="url(#hatch)" stroke="#d6d6d6" d="M634 253L635.5 251.5L636.8 252.5L636.8 256L635.5 259.5L634.2 257.5Z"/>
<path fill="#e34a33" d="M582.5 304.2L585.8 303L590 305.8L594.2 310L598.3 315L602.5 319.2L605.8 323.3L607.5 327.5L606.7 331.7L605 332.5L601.7 329.2L597.5 324.2L593.3 319.2L589.2 314.2L585 309.2Z"/>
<path fill="#e34a33" d="M605.8 333.7L610 333L615 334.7L620 335L624.2 337.5L628.3 338.7L627.5 340L622.5 339.7L617.5 338.3L612.5 337.5L607.5 336.3Z"/>
<path fill="#e34a33" d="M614.2 314.2L615.8 316.7L615.8 320.8L617.5 324.2L621.7 325.8L625.8 326.7L629.2 327.5L631.7 325.8L633 321.7L634.2 317.5L635.8 315L635 310.8L634.2 306.7L630.8 306.7L628.3 308.3L625.8 310.8L622.5 312.5L619.2 314.2L616.7 315Z"/>
<path fill="#fdd49e" d="M615.8 313.3L619.2 310.8L623.3 307.5L627.5 304.2L630 300.8L632.5 299.2L635.8 301.7L637.5 304.2L635.8 306.7L634.2 306.7L630.8 306.7L628.3 308.3L625.8 310.8L622.5 312.5L619.2 314.2L616.7 315Z"/>
<path fill="#e34a33" d="M637.5 320.8L639.2 317.5L642.5 315L646.7 314.7L650.8 313.3L651.7 315L648.3 316.7L644.2 317.5L641.7 319.2L643.3 322.5L646.7 320.8L645.8 323.3L644.2 325L645.8 329.2L646.7 331.7L644.7 330.8L643 327.5L641.7 325.8L640.8 329.2L640 331.7L638.3 330L637.5 325.8Z"/>
<path fill="#e34a33" d="M631.2 339.2L635 339L635.5 340.8L631.8 341Z"/>
<path fill="#e34a33" d="M636.2 341.8L640 341.5L640.2 343.2L636.8 343.5Z"/>
<path fill="#e34a33" d="M639.5 339.2L645 338.2L645.2 339.8L640 340.5Z"/>
<path fill="#e34a33" d="M646.2 342.5L650.5 340.2L651.5 341.5L647 344Z"/>
<path fill="#fef0d9" d="M650.5 340.2L655 339L655.5 340.2L651.5 341.5Z"/>
<path fill="#e34a33" d="M657 312.5L659 313L659.5 318L657.5 317.5Z"/>
<path fill="#e34a33" d="M653.8 325.5L657.5 325L658 326.5L654.5 327Z"/>
<path fill="#e34a33" d="M658.8 324.5L663.8 325.5L663.2 327L659.2 326.2Z"/>
<path fill="#e34a33" d="M671.2 330L673 330.5L672.5 333.8L671 333Z"/>
<path fill="#e34a33" d="M664.2 320L667.5 318.7L671.7 319.7L671.3 322L674.2 323.3L677.5 322.5L681.7 321.7L686.7 324.2L686.7 339.2L683.3 338.3L680 339.2L679.2 336.7L680.8 334.2L678.3 331.7L675 329.2L672.5 327.5L670.8 325L668.3 323.3L665.8 322Z"/>
<path fill="#fc8d59" d="M686.7 324.2L691.7 325.8L696.7 329.2L700.8 332.5L702.5 335.8L705 340L708.7 344.2L705 343L701.7 340L699.2 338.3L695 339.2L690.8 340L686.7 339.2Z"/>
<path fill="#fc8d59" d="M704.2 332.5L708.3 331.7L712.5 329.2L714.2 326.7L712.5 324.7L715.3 327.5L714.2 330.8L710 333L705.8 333.7Z"/>
<path fill="#fc8d59" d="M718.8 330.5L720.8 332.5L721.8 335L720 333.8Z"/>
<path fill="#fdd49e" d="M725.5 336L727.5 337L727 338L725.2 337Z"/>
<path fill="#fdd49e" d="M729.5 339.5L732 341.2L731.2 342.2L729.2 340.5Z"/>
<path fill="#fdd49e" d="M733 343L735 345L734.2 345.8L732.5 344Z"/>
<path fill="#fc8d59" d="M636.5 270L638 269L640.5 269.5L641.5 272L641 275L640 278L641 280L644 280.5L646.5 281.5L647 283.5L645 283L643 282L640.5 281.5L639 280L637.5 277L636.2 274Z"/>
<path fill="#fc8d59" d="M639 282.5L640.8 282.8L641 285L639.5 284.8Z"/>
<path fill="#fc8d59" d="M643 287L644.8 287.5L645.5 290.5L644 291L643.2 289Z"/>
<path fill="#fc8d59" d="M645.5 289L646.8 289.5L647.2 293L646 292.8Z"/>
<path fill="#fc8d59" d="M649 285L651 286L651.8 289.5L650.5 290L649.5 287.5Z"/>
<path fill="#fc8d59" d="M632.5 295L637 288.5L637.8 289L633.2 295.5Z"/>
<path fill="#fc8d59" d="M644 297.5L646 295.5L649 295L651.5 292.5L653.5 294L654 298L652.5 301.5L651 302.5L650 300L648.5 299L647 300L645 299.5Z"/>
<path fill="#fdd49e" d="M743.2 356.2L744.8 355.8L745.2 360L744 360.5Z"/>
<path fill="#fef0d9" d="M766.2 363L770 361L773.8 359.5L774 361L770 363L767 364.5Z"/>
<path fill="url(#hatch)" stroke="#d6d6d6" d="M734 370.5L735.5 369.5L740 374L738.8 375.5Z"/>
<path fill="#fdd49e" d="M614.5 407.5L616.2 402.5L617.5 395L618 387.5L617 383.8L620 378.8L623.8 375L630 371.2L637.5 367.5L642.5 362.5L647.5 357.5L653.8 353.8L660 351.2L665.5 347L668.8 348.8L672.5 348L676.2 350L675 353.8L673.8 357.5L677.5 360.5L682 363L685 358.8L687 352.5L688.8 347L690.5 345.5L692 350L693.8 355L695.5 361.2L698 367.5L700.5 372.5L702.5 377.5L705 382.5L706.2 388.8L705 395L702 401.2L698 406.2L693.8 410.5L689.5 414.5L685 416.2L680 417.5L675 418L671.2 419.5L667.5 417.5L665 413.8L665.5 408.8L663.8 404.5L662 408L660 407L658 403.8L653.8 401.2L648.8 400L642.5 401.2L636.2 402.5L630 405L625 408L620 409.5L616.2 409.5Z"/>
<path fill="#fdd49e" d="M667.5 425L671.2 423.8L675 423.8L676.2 426.2L673.8 429.5L670 431.2L668 428.8Z"/>
<path fill="#fef0d9" d="M738.8 408L740.5 409.5L742 413.8L745 415.5L747 417L743.8 418.8L741.2 421.2L737.5 424.5L733.8 426.2L732 424.5L733.8 421.2L736.2 418.8L738 415L738.8 411.2Z"/>
<path fill="#fef0d9" d="M705 437L708.8 434.5L713.8 432L718.8 429.5L723.8 427L727.5 424.5L730 423.8L731.2 426.2L727.5 428.8L723 431.2L717.5 433.8L712.5 436.2L708 438.8L705.5 438.8Z"/>
<path fill="#fc8d59" d="M476.2 349.5L478 353.8L477 360L474.5 367.5L471.2 375L468 382.5L465 384.5L462 383L461.2 377.5L462.5 371.2L465.5 363.8L469.5 357.5L472.5 353.8L474.5 350.5Z"/>
<path fill="#fdd49e" d="M462.5 347L464.5 347.5L465 349L463 348.8Z"/>
<path fill="#fef0d9" d="M492.5 369.2L494 369.2L494 370.8L492.5 370.8Z"/>
<path fill="#fef0d9" d="M384 172.2L386.5 171.8L387.5 173.5L385.5 174.8L384 174Z"/>
<path fill="#fef0d9" d="M305.5 273L307 272.6L307.3 274L306 274.3Z"/>
<path fill="#fef0d9" d="M308.5 275L310 274.8L310.2 276L308.8 276.2Z"/>
</g>
<g id="legend">
<rect x="210.5" y="517.3" width="47" height="11" fill="url(#hatch)" stroke="#c2c2c2" stroke-width="1"/>
<line x1="234" y1="514" x2="234" y2="517" stroke="#b5b5b5"/>
<text class="lg" x="234" y="510" text-anchor="middle">No data</text>
<rect x="277.7" y="517.5" width="60.3" height="11" fill="#fef0d9"/>
<rect x="338" y="517.5" width="60.3" height="11" fill="#fdd49e"/>
<rect x="398.3" y="517.5" width="60.3" height="11" fill="#fdbb84"/>
<rect x="458.6" y="517.5" width="60.3" height="11" fill="#fc8d59"/>
<rect x="518.9" y="517.5" width="60.3" height="11" fill="#e34a33"/>
<path d="M579.2 517.5H635L640 523L635 528.5H579.2Z" fill="#b30000"/>
<path d="M277.7 517.5H635M277.7 528.5H635M277.7 517.5V528.5" stroke="#b5b5b5" stroke-width="1" fill="none" opacity=".9"/>
<path d="M338 514V528.5M398.3 514V528.5M458.6 514V528.5M518.9 514V528.5M579.2 514V528.5" stroke="#8a8a8a" stroke-width=".8" fill="none" opacity=".8"/>
<text class="lg" x="277.7" y="510" text-anchor="middle">0</text>
<text class="lg" x="338" y="510" text-anchor="middle">10,000</text>
<text class="lg" x="398.3" y="510" text-anchor="middle">50,000</text>
<text class="lg" x="458.6" y="510" text-anchor="middle">100,000</text>
<text class="lg" x="518.9" y="510" text-anchor="middle">500,000</text>
<text class="lg" x="579.2" y="510" text-anchor="middle">1 million</text>
</g>
</svg>
<p class="foot" id="src"><b>Data source:</b> WHO &amp; UNICEF (2025); UN, World Population Prospects (2024)</p>
<p class="foot" id="url">OurWorldinData.org/vaccination | CC BY</p>
<p class="foot" id="note"><b>Note:</b> Polio is a highly infectious viral disease. The polio virus invades the nervous system and can cause irreversible paralysis.</p>
</body>
</html>
